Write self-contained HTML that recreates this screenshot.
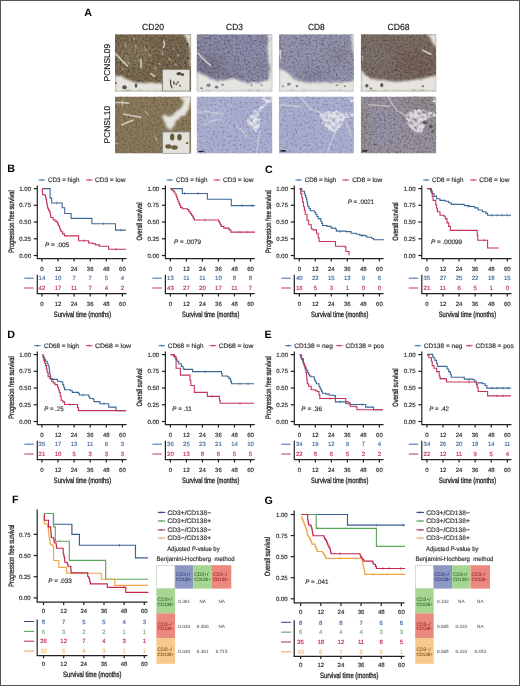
<!DOCTYPE html><html><head><meta charset="utf-8"><style>html,body{margin:0;padding:0;background:#fff;}svg{display:block;will-change:transform;filter:blur(0.3px);}text{font-family:"Liberation Sans", sans-serif;text-rendering:geometricPrecision;}</style></head><body>
<svg width="520" height="686" viewBox="0 0 520 686">
<rect x="0" y="0" width="520" height="686" fill="#fff"/>
<defs>
<filter id="nz" x="0" y="0" width="100%" height="100%"><feTurbulence type="fractalNoise" baseFrequency="0.5" numOctaves="2" seed="7" result="t"/><feColorMatrix in="t" type="matrix" values="0 0 0 0 0  0 0 0 0 0  0 0 0 0 0  0 0 0 -3.0 1.55"/><feGaussianBlur stdDeviation="0.45"/></filter>
<filter id="nzl" x="0" y="0" width="100%" height="100%"><feTurbulence type="fractalNoise" baseFrequency="0.45" numOctaves="2" seed="13" result="t"/><feColorMatrix in="t" type="matrix" values="0 0 0 0 0  0 0 0 0 0  0 0 0 0 0  0 0 0 -3.0 1.5"/><feGaussianBlur stdDeviation="0.45"/></filter>
<filter id="rough" x="-10%" y="-10%" width="120%" height="120%"><feTurbulence type="fractalNoise" baseFrequency="0.25" numOctaves="2" seed="3" result="t"/><feDisplacementMap in="SourceGraphic" in2="t" scale="3" xChannelSelector="R" yChannelSelector="G" result="d"/><feGaussianBlur in="d" stdDeviation="0.9"/></filter>
<filter id="lacy" x="-10%" y="-10%" width="120%" height="120%"><feTurbulence type="fractalNoise" baseFrequency="0.35" numOctaves="2" seed="21" result="t"/><feDisplacementMap in="SourceGraphic" in2="t" scale="4" xChannelSelector="R" yChannelSelector="G" result="d"/><feTurbulence type="fractalNoise" baseFrequency="0.28" numOctaves="1" seed="5" result="t2"/><feColorMatrix in="t2" type="matrix" values="0 0 0 0 0  0 0 0 0 0  0 0 0 0 0  0 0 0 3.0 -0.75" result="m"/><feComposite in="d" in2="m" operator="in" result="c"/><feGaussianBlur in="c" stdDeviation="0.7"/></filter>
<filter id="pblur" x="-50%" y="-50%" width="200%" height="200%"><feGaussianBlur stdDeviation="4"/></filter>
<filter id="stb" x="-20%" y="-20%" width="140%" height="140%"><feGaussianBlur stdDeviation="0.7"/></filter>
<filter id="sblur" x="-50%" y="-50%" width="200%" height="200%"><feGaussianBlur stdDeviation="0.7"/></filter>
<clipPath id="clip00"><rect x="115.0" y="34.2" width="76.20" height="57.40"/></clipPath>
<clipPath id="clip01"><rect x="196.6" y="34.2" width="75.80" height="57.40"/></clipPath>
<clipPath id="clip02"><rect x="278.9" y="34.2" width="75.00" height="57.40"/></clipPath>
<clipPath id="clip03"><rect x="360.8" y="34.2" width="75.50" height="57.40"/></clipPath>
<clipPath id="clip10"><rect x="115.0" y="96.5" width="76.20" height="57.00"/></clipPath>
<clipPath id="clip11"><rect x="196.6" y="96.5" width="75.80" height="57.00"/></clipPath>
<clipPath id="clip12"><rect x="278.9" y="96.5" width="75.00" height="57.00"/></clipPath>
<clipPath id="clip13"><rect x="360.8" y="96.5" width="75.50" height="57.00"/></clipPath>
</defs>
<g clip-path="url(#clip00)">
<rect x="115.0" y="34.2" width="76.20" height="57.40" fill="#7c6c52"/>
<g transform="translate(115.0 34.2)" filter="url(#pblur)">
<ellipse cx="20" cy="20" rx="18" ry="14" fill="#948468" opacity="0.45"/>
<ellipse cx="55" cy="25" rx="12" ry="12" fill="#75644a" opacity="0.4"/>
</g>
<rect x="115.0" y="34.2" width="76.20" height="57.40" fill="#46361e" filter="url(#nz)" opacity="0.3"/>
<rect x="115.0" y="34.2" width="76.20" height="57.40" fill="#cfc4ac" filter="url(#nzl)" opacity="0.3"/>
<g transform="translate(115.0 34.2)" filter="url(#rough)">
<polygon points="68,0 76,0 76,34 74.5,30 75,22 74.6,14 73,8 71,3.5" fill="#e6e4df" opacity="1.0"/>
<polygon points="0,40.9 1.1,40.9 5.7,42.4 10.3,44 14.9,46.3 21,48.6 28.8,48.6 36.5,48.6 44.2,49.3 48,49.5 48,57.4 0,57.4" fill="#e6e4df" opacity="1.0"/>
</g>
<g transform="translate(115.0 34.2)" filter="url(#stb)">
<polyline points="0.3,19.3 4,23 8,27.5 12.6,31.6" fill="none" stroke="#e8e6e0" stroke-width="1.7" stroke-linecap="round" opacity="0.75"/>
<polyline points="25.7,25.5 26.2,29 25.9,33.2" fill="none" stroke="#e8e6e0" stroke-width="1.7" stroke-linecap="round" opacity="0.75"/>
<polyline points="48.8,7 49.5,10 48.6,13" fill="none" stroke="#e8e6e0" stroke-width="1.7" stroke-linecap="round" opacity="0.75"/>
<polyline points="47.2,16.3 47.8,20.9" fill="none" stroke="#e8e6e0" stroke-width="1.3" stroke-linecap="round" opacity="0.45"/>
<polyline points="54,24 56,26.3" fill="none" stroke="#e8e6e0" stroke-width="1.3" stroke-linecap="round" opacity="0.45"/>
<polyline points="36,39.5 38,41 39.5,42" fill="none" stroke="#e8e6e0" stroke-width="1.7" stroke-linecap="round" opacity="0.75"/>
<polyline points="18.8,3.5 19.5,5" fill="none" stroke="#e8e6e0" stroke-width="1.3" stroke-linecap="round" opacity="0.45"/>
<polyline points="20.3,11 21,12.5" fill="none" stroke="#e8e6e0" stroke-width="1.3" stroke-linecap="round" opacity="0.45"/>
<polyline points="34.2,20.5 35,21.5" fill="none" stroke="#e8e6e0" stroke-width="1.3" stroke-linecap="round" opacity="0.45"/>
<polyline points="58,14.2 59,15.2" fill="none" stroke="#e8e6e0" stroke-width="1.3" stroke-linecap="round" opacity="0.45"/>
<polyline points="62.6,20.5 63.3,21.6" fill="none" stroke="#e8e6e0" stroke-width="1.3" stroke-linecap="round" opacity="0.45"/>
<polyline points="44,29 45,30" fill="none" stroke="#e8e6e0" stroke-width="1.3" stroke-linecap="round" opacity="0.45"/>
<polyline points="7,34.5 8.2,35.5" fill="none" stroke="#e8e6e0" stroke-width="1.3" stroke-linecap="round" opacity="0.45"/>
<polyline points="13.2,28.3 14,29" fill="none" stroke="#e8e6e0" stroke-width="1.3" stroke-linecap="round" opacity="0.45"/>
<polyline points="30,14 31,16" fill="none" stroke="#e8e6e0" stroke-width="1.3" stroke-linecap="round" opacity="0.45"/>
<polyline points="40,33 41,35" fill="none" stroke="#e8e6e0" stroke-width="1.3" stroke-linecap="round" opacity="0.45"/>
<polyline points="60,30 61.5,31" fill="none" stroke="#e8e6e0" stroke-width="1.3" stroke-linecap="round" opacity="0.45"/>
<polyline points="10,10 11,12" fill="none" stroke="#e8e6e0" stroke-width="1.3" stroke-linecap="round" opacity="0.45"/>
</g>
<g transform="translate(115.0 34.2)" filter="url(#sblur)">
<ellipse cx="9.5" cy="53" rx="2.24" ry="1.96" fill="#2e2010" opacity="0.75"/>
<ellipse cx="21" cy="51.5" rx="1.26" ry="2.10" fill="#2e2010" opacity="0.75"/>
<ellipse cx="1.2" cy="49" rx="0.84" ry="0.84" fill="#3a2a14" opacity="0.75"/>
<ellipse cx="72.5" cy="10" rx="1.05" ry="1.40" fill="#3a2a14" opacity="0.75"/>
<ellipse cx="73" cy="24" rx="0.84" ry="1.40" fill="#3a2a14" opacity="0.75"/>
</g>
<g transform="translate(115.0 34.2)">
<rect x="47.6" y="35.4" width="27.3" height="21.5" fill="#e2e1dc" stroke="#85837d" stroke-width="0.9"/>
<g filter="url(#sblur)">
<path d="M55.5 45.5 q-0.5 4 1.5 8.5 M58.5 47 l0.8 3.5 M61 49 l0.5 2" stroke="#5a4a35" stroke-width="1.3" fill="none"/>
<ellipse cx="64" cy="39.5" rx="2.6" ry="1.6" fill="#5a4a35"/><ellipse cx="67.5" cy="40.5" rx="1.6" ry="1.4" fill="#5a4a35"/><ellipse cx="63" cy="48" rx="1" ry="1" fill="#6a5a45"/><ellipse cx="65" cy="51.5" rx="0.9" ry="0.9" fill="#6a5a45"/>
</g></g>
</g>
<g clip-path="url(#clip01)">
<rect x="196.6" y="34.2" width="75.80" height="57.40" fill="#8b8ba7"/>
<g transform="translate(196.6 34.2)" filter="url(#pblur)">
<ellipse cx="12" cy="32" rx="14" ry="12" fill="#6a6678" opacity="0.45"/>
<ellipse cx="30" cy="40" rx="12" ry="6" fill="#76707e" opacity="0.4"/>
<ellipse cx="50" cy="15" rx="16" ry="12" fill="#9496b8" opacity="0.3"/>
</g>
<rect x="196.6" y="34.2" width="75.80" height="57.40" fill="#40343e" filter="url(#nz)" opacity="0.27"/>
<rect x="196.6" y="34.2" width="75.80" height="57.40" fill="#c2c4da" filter="url(#nzl)" opacity="0.22"/>
<g transform="translate(196.6 34.2)" filter="url(#rough)">
<polygon points="70.7,0 76,0 76,57.4 72.2,44 72.2,42.4 73.8,36.3 72.2,28.6 71.5,20.9 70.7,13.2 72.2,7" fill="#e6e4df" opacity="1.0"/>
<polygon points="0,37.8 1.5,37.8 7.6,40.9 13.8,44 21.5,47 29.2,45.5 36.9,44 44.6,47 52.2,48.6 63,48.6 72.2,44 76,44 76,57.4 0,57.4" fill="#e6e4df" opacity="1.0"/>
</g>
<g transform="translate(196.6 34.2)" filter="url(#stb)">
<polyline points="1.5,19.3 6,24 10,28 13.8,30.9" fill="none" stroke="#e8e6e0" stroke-width="1.7" stroke-linecap="round" opacity="0.75"/>
</g>
<g transform="translate(196.6 34.2)" filter="url(#sblur)">
<ellipse cx="12" cy="51" rx="2.10" ry="1.75" fill="#6a6078" opacity="0.75"/>
<ellipse cx="20" cy="53" rx="1.75" ry="1.40" fill="#5a5068" opacity="0.75"/>
<ellipse cx="26" cy="50.5" rx="1.40" ry="1.05" fill="#6a6078" opacity="0.75"/>
<ellipse cx="5" cy="54" rx="1.40" ry="1.05" fill="#6a6078" opacity="0.75"/>
<ellipse cx="55" cy="51" rx="1.05" ry="0.84" fill="#7a7088" opacity="0.75"/>
<ellipse cx="65" cy="51" rx="1.05" ry="0.84" fill="#7a7088" opacity="0.75"/>
</g>
</g>
<g clip-path="url(#clip02)">
<rect x="278.9" y="34.2" width="75.00" height="57.40" fill="#9495ae"/>
<g transform="translate(278.9 34.2)" filter="url(#pblur)">
<ellipse cx="60" cy="22" rx="10" ry="10" fill="#7a6e80" opacity="0.35"/>
<ellipse cx="35" cy="40" rx="14" ry="6" fill="#706a80" opacity="0.35"/>
</g>
<rect x="278.9" y="34.2" width="75.00" height="57.40" fill="#4a4050" filter="url(#nz)" opacity="0.25"/>
<rect x="278.9" y="34.2" width="75.00" height="57.40" fill="#c6c7db" filter="url(#nzl)" opacity="0.22"/>
<g transform="translate(278.9 34.2)" filter="url(#rough)">
<polygon points="72,0 76,0 76,20 73.5,16.3 73,8" fill="#e6e4df" opacity="1.0"/>
<polygon points="0,34.7 0.4,34.7 5.8,36.3 13.5,44 21.2,47 28.9,48.6 44.3,47.8 59.6,48.6 72,47 76,46 76,57.4 0,57.4" fill="#e6e4df" opacity="1.0"/>
</g>
<g transform="translate(278.9 34.2)" filter="url(#stb)">
<polyline points="1.2,16.3 1.5,20 1.8,24" fill="none" stroke="#e8e6e0" stroke-width="1.7" stroke-linecap="round" opacity="0.75"/>
</g>
<g transform="translate(278.9 34.2)" filter="url(#sblur)">
<ellipse cx="10" cy="50" rx="1.75" ry="1.40" fill="#6a6078" opacity="0.75"/>
<ellipse cx="18" cy="52" rx="1.40" ry="1.12" fill="#6a6078" opacity="0.75"/>
<ellipse cx="4" cy="52" rx="1.05" ry="1.05" fill="#7a7088" opacity="0.75"/>
<ellipse cx="58" cy="51" rx="1.40" ry="0.91" fill="#7a7088" opacity="0.75"/>
<ellipse cx="66" cy="52" rx="1.05" ry="0.84" fill="#7a6a70" opacity="0.75"/>
</g>
</g>
<g clip-path="url(#clip03)">
<rect x="360.8" y="34.2" width="75.50" height="57.40" fill="#7d6e66"/>
<g transform="translate(360.8 34.2)" filter="url(#pblur)">
<ellipse cx="55" cy="30" rx="18" ry="16" fill="#745a4a" opacity="0.45"/>
<ellipse cx="15" cy="20" rx="14" ry="14" fill="#868080" opacity="0.3"/>
</g>
<rect x="360.8" y="34.2" width="75.50" height="57.40" fill="#3a261a" filter="url(#nz)" opacity="0.28"/>
<rect x="360.8" y="34.2" width="75.50" height="57.40" fill="#c4b6aa" filter="url(#nzl)" opacity="0.24"/>
<g transform="translate(360.8 34.2)" filter="url(#rough)">
<polygon points="66,0 76,0 76,14 73,10 70,5" fill="#e6e4df" opacity="1.0"/>
<polygon points="0,35.5 1.2,36.4 5.4,42 12.2,44.8 22,46.1 35.8,47.5 49.7,46.1 63.5,44 71.8,42 76,41 76,57.4 0,57.4" fill="#e6e4df" opacity="1.0"/>
</g>
<g transform="translate(360.8 34.2)" filter="url(#stb)">
<polyline points="62,16 66,18 70,20" fill="none" stroke="#e8e6e0" stroke-width="1.7" stroke-linecap="round" opacity="0.75"/>
<polyline points="1.3,22.4 2.5,25.5" fill="none" stroke="#e8e6e0" stroke-width="1.3" stroke-linecap="round" opacity="0.45"/>
</g>
<g transform="translate(360.8 34.2)" filter="url(#sblur)">
<ellipse cx="6" cy="51.5" rx="1.75" ry="1.75" fill="#3a2a22" opacity="0.75"/>
<ellipse cx="21" cy="51" rx="1.54" ry="2.10" fill="#3a2a22" opacity="0.75"/>
<ellipse cx="10" cy="54" rx="1.05" ry="1.05" fill="#4a3a30" opacity="0.75"/>
<ellipse cx="62" cy="52" rx="1.40" ry="1.05" fill="#6a5a50" opacity="0.75"/>
</g>
</g>
<g clip-path="url(#clip10)">
<rect x="115.0" y="96.5" width="76.20" height="57.00" fill="#8b7a5b"/>
<g transform="translate(115.0 96.5)" filter="url(#pblur)">
<ellipse cx="20" cy="35" rx="18" ry="14" fill="#8a7656" opacity="0.3"/>
</g>
<rect x="115.0" y="96.5" width="76.20" height="57.00" fill="#46341c" filter="url(#nz)" opacity="0.16"/>
<rect x="115.0" y="96.5" width="76.20" height="57.00" fill="#c8baa0" filter="url(#nzl)" opacity="0.22"/>
<g transform="translate(115.0 96.5)" filter="url(#rough)">
<polygon points="64,0 76,0 76,6 74.9,6.7 73.4,12.9 70.3,17.5 65.7,20.6 62.6,23.7 59.5,28.3 56.5,32.9 51.8,31.3 50.3,26.7 47.2,20.6 48.8,17.5 53.4,20.6 56.5,19 62.6,14.4 67.2,9.8 68.8,5.2 66,2" fill="#e6e4df" opacity="1.0"/>
</g>
<g transform="translate(115.0 96.5)" filter="url(#stb)">
<polyline points="1.1,6 6,6 13.4,6.7" fill="none" stroke="#e8e6e0" stroke-width="1.7" stroke-linecap="round" opacity="0.75"/>
<polyline points="7.2,3.7 7.4,9.8" fill="none" stroke="#e8e6e0" stroke-width="1.3" stroke-linecap="round" opacity="0.45"/>
<polyline points="8.8,17.5 16,19 25.7,20.6" fill="none" stroke="#e8e6e0" stroke-width="1.7" stroke-linecap="round" opacity="0.75"/>
<polyline points="7.2,28.3 12,26 18,23.7" fill="none" stroke="#e8e6e0" stroke-width="1.7" stroke-linecap="round" opacity="0.75"/>
<polyline points="1.1,46.7 3,47.5" fill="none" stroke="#e8e6e0" stroke-width="1.3" stroke-linecap="round" opacity="0.45"/>
<polyline points="30,15 33,18" fill="none" stroke="#e8e6e0" stroke-width="1.3" stroke-linecap="round" opacity="0.45"/>
<polyline points="40,40 42,44" fill="none" stroke="#e8e6e0" stroke-width="1.3" stroke-linecap="round" opacity="0.45"/>
</g>
<g transform="translate(115.0 96.5)" filter="url(#sblur)">
</g>
<g transform="translate(115.0 96.5)">
<rect x="47.6" y="35.4" width="27.3" height="21.5" fill="#e2e1dc" stroke="#85837d" stroke-width="0.9"/>
<g filter="url(#sblur)">
<ellipse cx="57.2" cy="40.5" rx="2.2" ry="3.6" fill="#6b5a40"/><ellipse cx="64.5" cy="40.8" rx="2.3" ry="3.2" fill="#6b5a40"/><ellipse cx="53.5" cy="50" rx="3.2" ry="2.2" fill="#6b5a40"/><ellipse cx="59.5" cy="51" rx="3.2" ry="2.2" fill="#6b5a40"/><path d="M70.5 47.5 l1.6 -3 l1.6 3z" fill="#7b6a50"/>
</g></g>
</g>
<g clip-path="url(#clip11)">
<rect x="196.6" y="96.5" width="75.80" height="57.00" fill="#abafd2"/>
<g transform="translate(196.6 96.5)" filter="url(#pblur)">
<ellipse cx="20" cy="20" rx="14" ry="10" fill="#b8bbd8" opacity="0.4"/>
</g>
<rect x="196.6" y="96.5" width="75.80" height="57.00" fill="#6a6e98" filter="url(#nz)" opacity="0.06"/>
<rect x="196.6" y="96.5" width="75.80" height="57.00" fill="#d6d9ea" filter="url(#nzl)" opacity="0.2"/>
<g transform="translate(196.6 96.5)" filter="url(#lacy)">
<polygon points="64.6,0 76,0 76,5.2 70.7,6.7 66,5" fill="#efeef0" opacity="0.78"/>
<polygon points="70.7,6.7 66,12 63,17.5 60,22 55,27 49.2,28.3 50.7,22 56,17.5 62,12 66,8" fill="#efeef0" opacity="0.78"/>
<polygon points="52,26 58,22 63,22 63,30 60,34.4 55,33" fill="#efeef0" opacity="0.78"/>
</g>
<g transform="translate(196.6 96.5)" filter="url(#stb)">
<polyline points="1.5,16 10,15 18,16.5 26,17.5" fill="none" stroke="#e8e6e0" stroke-width="1.36" stroke-linecap="round" opacity="0.5249999999999999"/>
<polyline points="7.6,28.3 15,25 23,22.1" fill="none" stroke="#e8e6e0" stroke-width="1.36" stroke-linecap="round" opacity="0.5249999999999999"/>
<polyline points="63,34.4 62,42 61,50 60,56" fill="none" stroke="#e8e6e0" stroke-width="1.36" stroke-linecap="round" opacity="0.5249999999999999"/>
<polyline points="40,30 46,34 50,40" fill="none" stroke="#e8e6e0" stroke-width="1.36" stroke-linecap="round" opacity="0.5249999999999999"/>
<polyline points="30,8 36,10" fill="none" stroke="#e8e6e0" stroke-width="1.04" stroke-linecap="round" opacity="0.315"/>
</g>
<g transform="translate(196.6 96.5)" filter="url(#sblur)">
<ellipse cx="4.5" cy="55" rx="3.00" ry="0.80" fill="#222" opacity="1.0"/>
</g>
</g>
<g clip-path="url(#clip12)">
<rect x="278.9" y="96.5" width="75.00" height="57.00" fill="#abafd2"/>
<g transform="translate(278.9 96.5)" filter="url(#pblur)">
<ellipse cx="20" cy="35" rx="16" ry="14" fill="#a0a4cb" opacity="0.3"/>
</g>
<rect x="278.9" y="96.5" width="75.00" height="57.00" fill="#6c709a" filter="url(#nz)" opacity="0.06"/>
<rect x="278.9" y="96.5" width="75.00" height="57.00" fill="#d6d9ea" filter="url(#nzl)" opacity="0.2"/>
<g transform="translate(278.9 96.5)" filter="url(#lacy)">
<polygon points="68.9,0 76,0 76,6.7 71,4" fill="#efeef0" opacity="0.78"/>
<polygon points="41.2,16 50,14.4 60,15 75,17.5 75,19.5 65.8,22 62,30 56.6,36 48,33 44,26 41.2,19" fill="#efeef0" opacity="0.78"/>
</g>
<g transform="translate(278.9 96.5)" filter="url(#stb)">
<polyline points="21.2,0.6 26,6 31.9,12.9 38,15 41.2,16" fill="none" stroke="#e8e6e0" stroke-width="1.36" stroke-linecap="round" opacity="0.5249999999999999"/>
<polyline points="1.2,8.3 10,9 21.2,9.8" fill="none" stroke="#e8e6e0" stroke-width="1.36" stroke-linecap="round" opacity="0.5249999999999999"/>
<polyline points="56.6,36 53,44 50,50 48.9,56" fill="none" stroke="#e8e6e0" stroke-width="1.36" stroke-linecap="round" opacity="0.5249999999999999"/>
<polyline points="66,25 70,32 72,40" fill="none" stroke="#e8e6e0" stroke-width="1.36" stroke-linecap="round" opacity="0.5249999999999999"/>
</g>
<g transform="translate(278.9 96.5)" filter="url(#sblur)">
<ellipse cx="4.2" cy="54.4" rx="3.00" ry="0.80" fill="#222" opacity="1.0"/>
</g>
</g>
<g clip-path="url(#clip13)">
<rect x="360.8" y="96.5" width="75.50" height="57.00" fill="#99939f"/>
<g transform="translate(360.8 96.5)" filter="url(#pblur)">
<ellipse cx="24" cy="32" rx="14" ry="18" fill="#9696b6" opacity="0.5"/>
<ellipse cx="60" cy="6" rx="16" ry="8" fill="#8a7a72" opacity="0.4"/>
<ellipse cx="5" cy="30" rx="5" ry="20" fill="#8a7a72" opacity="0.35"/>
</g>
<rect x="360.8" y="96.5" width="75.50" height="57.00" fill="#3e2e26" filter="url(#nz)" opacity="0.25"/>
<rect x="360.8" y="96.5" width="75.50" height="57.00" fill="#c8c2cc" filter="url(#nzl)" opacity="0.2"/>
<g transform="translate(360.8 96.5)" filter="url(#lacy)">
<polygon points="70.5,0 76,0 76,8.3 72,5" fill="#efeef0" opacity="0.78"/>
<polygon points="44.4,19 52,13 60,12.9 68,15 75,17.5 75,20 65.9,22 64,30 60,37.5 52,34 47,28" fill="#efeef0" opacity="0.78"/>
</g>
<g transform="translate(360.8 96.5)" filter="url(#stb)">
<polyline points="27.4,0.6 31,7 36.7,14.4 44.4,19" fill="none" stroke="#e8e6e0" stroke-width="1.36" stroke-linecap="round" opacity="0.5249999999999999"/>
<polyline points="7.4,8.3 18,9 29,9.8" fill="none" stroke="#e8e6e0" stroke-width="1.36" stroke-linecap="round" opacity="0.5249999999999999"/>
</g>
<g transform="translate(360.8 96.5)" filter="url(#sblur)">
<ellipse cx="64" cy="26" rx="2.10" ry="2.10" fill="#4a3a30" opacity="0.75"/>
<ellipse cx="70" cy="30" rx="1.75" ry="2.10" fill="#4a3a30" opacity="0.75"/>
<ellipse cx="72" cy="35" rx="1.40" ry="1.40" fill="#5a4a40" opacity="0.75"/>
<ellipse cx="4" cy="54.4" rx="3.00" ry="0.80" fill="#222" opacity="1.0"/>
<ellipse cx="14" cy="48" rx="1.05" ry="1.05" fill="#4a3a30" opacity="0.75"/>
<ellipse cx="30" cy="46" rx="0.84" ry="0.84" fill="#4a3a30" opacity="0.75"/>
</g>
</g>
<text x="153.10" y="29.80" font-size="8.8" text-anchor="middle" fill="#222" stroke="#222" stroke-width="0.18" textLength="22.1" lengthAdjust="spacingAndGlyphs">CD20</text>
<text x="234.50" y="29.80" font-size="8.8" text-anchor="middle" fill="#222" stroke="#222" stroke-width="0.18" textLength="16.8" lengthAdjust="spacingAndGlyphs">CD3</text>
<text x="316.40" y="29.80" font-size="8.8" text-anchor="middle" fill="#222" stroke="#222" stroke-width="0.18" textLength="16.8" lengthAdjust="spacingAndGlyphs">CD8</text>
<text x="398.55" y="29.80" font-size="8.8" text-anchor="middle" fill="#222" stroke="#222" stroke-width="0.18" textLength="22.1" lengthAdjust="spacingAndGlyphs">CD68</text>
<text x="110.30" y="62.60" font-size="8.5" text-anchor="middle" fill="#222" stroke="#222" stroke-width="0.18" textLength="37.6" lengthAdjust="spacingAndGlyphs" transform="rotate(-90 110.3 62.60)">PCNSL09</text>
<text x="110.30" y="124.70" font-size="8.5" text-anchor="middle" fill="#222" stroke="#222" stroke-width="0.18" textLength="37.6" lengthAdjust="spacingAndGlyphs" transform="rotate(-90 110.3 124.70)">PCNSL10</text>
<line x1="37.30" y1="185.40" x2="37.30" y2="258.60" stroke="#222" stroke-width="1.2"/>
<line x1="36.80" y1="258.60" x2="126.60" y2="258.60" stroke="#222" stroke-width="1.2"/>
<line x1="33.80" y1="255.50" x2="37.30" y2="255.50" stroke="#222" stroke-width="1.2"/>
<text x="31.00" y="257.65" font-size="6" text-anchor="end" fill="#333" stroke="#333" stroke-width="0.18">0.00</text>
<line x1="33.80" y1="238.78" x2="37.30" y2="238.78" stroke="#222" stroke-width="1.2"/>
<text x="31.00" y="240.93" font-size="6" text-anchor="end" fill="#333" stroke="#333" stroke-width="0.18">0.25</text>
<line x1="33.80" y1="222.05" x2="37.30" y2="222.05" stroke="#222" stroke-width="1.2"/>
<text x="31.00" y="224.20" font-size="6" text-anchor="end" fill="#333" stroke="#333" stroke-width="0.18">0.50</text>
<line x1="33.80" y1="205.32" x2="37.30" y2="205.32" stroke="#222" stroke-width="1.2"/>
<text x="31.00" y="207.47" font-size="6" text-anchor="end" fill="#333" stroke="#333" stroke-width="0.18">0.75</text>
<line x1="33.80" y1="188.60" x2="37.30" y2="188.60" stroke="#222" stroke-width="1.2"/>
<text x="31.00" y="190.75" font-size="6" text-anchor="end" fill="#333" stroke="#333" stroke-width="0.18">1.00</text>
<line x1="41.90" y1="258.60" x2="41.90" y2="261.60" stroke="#222" stroke-width="1.2"/>
<text x="41.90" y="270.50" font-size="6" text-anchor="middle" fill="#333" stroke="#333" stroke-width="0.18">0</text>
<line x1="58.00" y1="258.60" x2="58.00" y2="261.60" stroke="#222" stroke-width="1.2"/>
<text x="58.00" y="270.50" font-size="6" text-anchor="middle" fill="#333" stroke="#333" stroke-width="0.18">12</text>
<line x1="74.10" y1="258.60" x2="74.10" y2="261.60" stroke="#222" stroke-width="1.2"/>
<text x="74.10" y="270.50" font-size="6" text-anchor="middle" fill="#333" stroke="#333" stroke-width="0.18">24</text>
<line x1="90.20" y1="258.60" x2="90.20" y2="261.60" stroke="#222" stroke-width="1.2"/>
<text x="90.20" y="270.50" font-size="6" text-anchor="middle" fill="#333" stroke="#333" stroke-width="0.18">36</text>
<line x1="106.30" y1="258.60" x2="106.30" y2="261.60" stroke="#222" stroke-width="1.2"/>
<text x="106.30" y="270.50" font-size="6" text-anchor="middle" fill="#333" stroke="#333" stroke-width="0.18">48</text>
<line x1="122.40" y1="258.60" x2="122.40" y2="261.60" stroke="#222" stroke-width="1.2"/>
<text x="122.40" y="270.50" font-size="6" text-anchor="middle" fill="#333" stroke="#333" stroke-width="0.18">60</text>
<text x="14.00" y="221.55" font-size="7.8" text-anchor="middle" fill="#222" stroke="#222" stroke-width="0.28" textLength="62.5" lengthAdjust="spacingAndGlyphs" transform="rotate(-90 14.00 221.55)">Progression free survival</text>
<line x1="38.70" y1="180.00" x2="44.90" y2="180.00" stroke="#3d6895" stroke-width="1"/>
<line x1="41.80" y1="178.80" x2="41.80" y2="181.20" stroke="#3d6895" stroke-width="0.6"/>
<text x="48.00" y="182.20" font-size="6.4" text-anchor="start" fill="#333" stroke="#333" stroke-width="0.18" textLength="31.4" lengthAdjust="spacingAndGlyphs">CD3 = high</text>
<line x1="85.90" y1="180.00" x2="92.50" y2="180.00" stroke="#c3345a" stroke-width="1"/>
<line x1="89.20" y1="178.80" x2="89.20" y2="181.20" stroke="#c3345a" stroke-width="0.6"/>
<text x="94.90" y="182.20" font-size="6.4" text-anchor="start" fill="#333" stroke="#333" stroke-width="0.18" textLength="30.5" lengthAdjust="spacingAndGlyphs">CD3 = low</text>
<polyline points="42.20,188.60 50.10,188.60 50.10,198.10 51.70,198.10 51.70,203.00 62.20,203.00 62.20,207.80 64.70,207.80 64.70,213.50 71.10,213.50 71.10,218.40 91.90,218.40 91.90,223.70 115.50,223.70 115.50,230.10 126.00,230.10" fill="none" stroke="#3d6895" stroke-width="1.1" stroke-linejoin="miter"/>
<path d="M56.60 201.70V204.30" stroke="#3d6895" stroke-width="0.7"/>
<path d="M103.40 222.40V225.00" stroke="#3d6895" stroke-width="0.7"/>
<path d="M121.00 228.80V231.40" stroke="#3d6895" stroke-width="0.7"/>
<polyline points="42.20,188.60 42.33,188.60 42.33,190.67 42.47,190.67 42.47,192.73 42.60,192.73 42.60,194.80 45.00,194.80 45.00,195.20 45.40,195.20 45.40,196.73 45.80,196.73 45.80,198.27 46.20,198.27 46.20,199.80 46.50,199.80 46.50,201.50 46.80,201.50 46.80,203.20 47.10,203.20 47.10,204.90 47.40,204.90 47.40,206.60 47.70,206.60 47.70,208.30 48.47,208.30 48.47,209.83 49.23,209.83 49.23,211.37 50.00,211.37 50.00,212.90 50.27,212.90 50.27,214.43 50.53,214.43 50.53,215.97 50.80,215.97 50.80,217.50 53.10,217.50 53.10,219.80 55.00,219.80 55.00,221.10 57.00,221.10 57.00,222.40 57.70,222.40 57.70,224.10 58.40,224.10 58.40,225.80 59.70,225.80 59.70,228.50 60.35,228.50 60.35,230.15 61.00,230.15 61.00,231.80 62.70,231.80 62.70,233.85 64.40,233.85 64.40,235.90 78.60,235.90 78.60,240.80 88.60,240.80 88.60,243.00 92.70,243.00 92.70,243.70 95.40,243.70 95.40,244.90 99.40,244.90 99.40,246.20 108.60,246.20 108.60,249.30 126.00,249.30" fill="none" stroke="#c3345a" stroke-width="1.1" stroke-linejoin="miter"/>
<path d="M84.00 239.50V242.10" stroke="#c3345a" stroke-width="0.7"/>
<path d="M116.00 248.00V250.60" stroke="#c3345a" stroke-width="0.7"/>
<text x="45.00" y="246.80" font-size="6.4" fill="#333" stroke="#333" stroke-width="0.18" textLength="24.1" lengthAdjust="spacingAndGlyphs"><tspan font-style="italic">P</tspan> = .005</text>
<line x1="37.30" y1="274.80" x2="37.30" y2="293.70" stroke="#222" stroke-width="1.2"/>
<line x1="36.80" y1="293.70" x2="126.60" y2="293.70" stroke="#222" stroke-width="1.2"/>
<line x1="41.90" y1="293.70" x2="41.90" y2="296.50" stroke="#222" stroke-width="1.2"/>
<text x="41.90" y="305.75" font-size="6" text-anchor="middle" fill="#333" stroke="#333" stroke-width="0.18">0</text>
<line x1="58.00" y1="293.70" x2="58.00" y2="296.50" stroke="#222" stroke-width="1.2"/>
<text x="58.00" y="305.75" font-size="6" text-anchor="middle" fill="#333" stroke="#333" stroke-width="0.18">12</text>
<line x1="74.10" y1="293.70" x2="74.10" y2="296.50" stroke="#222" stroke-width="1.2"/>
<text x="74.10" y="305.75" font-size="6" text-anchor="middle" fill="#333" stroke="#333" stroke-width="0.18">24</text>
<line x1="90.20" y1="293.70" x2="90.20" y2="296.50" stroke="#222" stroke-width="1.2"/>
<text x="90.20" y="305.75" font-size="6" text-anchor="middle" fill="#333" stroke="#333" stroke-width="0.18">36</text>
<line x1="106.30" y1="293.70" x2="106.30" y2="296.50" stroke="#222" stroke-width="1.2"/>
<text x="106.30" y="305.75" font-size="6" text-anchor="middle" fill="#333" stroke="#333" stroke-width="0.18">48</text>
<line x1="122.40" y1="293.70" x2="122.40" y2="296.50" stroke="#222" stroke-width="1.2"/>
<text x="122.40" y="305.75" font-size="6" text-anchor="middle" fill="#333" stroke="#333" stroke-width="0.18">60</text>
<line x1="24.30" y1="278.20" x2="33.70" y2="278.20" stroke="#3d6895" stroke-width="1"/>
<text x="41.90" y="280.40" font-size="6" text-anchor="middle" fill="#4a74a3" stroke="#4a74a3" stroke-width="0.18">14</text>
<text x="58.00" y="280.40" font-size="6" text-anchor="middle" fill="#4a74a3" stroke="#4a74a3" stroke-width="0.18">10</text>
<text x="74.10" y="280.40" font-size="6" text-anchor="middle" fill="#4a74a3" stroke="#4a74a3" stroke-width="0.18">7</text>
<text x="90.20" y="280.40" font-size="6" text-anchor="middle" fill="#4a74a3" stroke="#4a74a3" stroke-width="0.18">7</text>
<text x="106.30" y="280.40" font-size="6" text-anchor="middle" fill="#4a74a3" stroke="#4a74a3" stroke-width="0.18">5</text>
<text x="122.40" y="280.40" font-size="6" text-anchor="middle" fill="#4a74a3" stroke="#4a74a3" stroke-width="0.18">4</text>
<line x1="24.30" y1="288.00" x2="33.70" y2="288.00" stroke="#c3345a" stroke-width="1"/>
<text x="41.90" y="290.20" font-size="6" text-anchor="middle" fill="#c43a5f" stroke="#c43a5f" stroke-width="0.18">42</text>
<text x="58.00" y="290.20" font-size="6" text-anchor="middle" fill="#c43a5f" stroke="#c43a5f" stroke-width="0.18">17</text>
<text x="74.10" y="290.20" font-size="6" text-anchor="middle" fill="#c43a5f" stroke="#c43a5f" stroke-width="0.18">11</text>
<text x="90.20" y="290.20" font-size="6" text-anchor="middle" fill="#c43a5f" stroke="#c43a5f" stroke-width="0.18">7</text>
<text x="106.30" y="290.20" font-size="6" text-anchor="middle" fill="#c43a5f" stroke="#c43a5f" stroke-width="0.18">4</text>
<text x="122.40" y="290.20" font-size="6" text-anchor="middle" fill="#c43a5f" stroke="#c43a5f" stroke-width="0.18">2</text>
<text x="82.45" y="316.70" font-size="7.8" text-anchor="middle" fill="#222" stroke="#222" stroke-width="0.3" textLength="57.3" lengthAdjust="spacingAndGlyphs">Survival time (months)</text>
<line x1="165.40" y1="185.40" x2="165.40" y2="258.60" stroke="#222" stroke-width="1.2"/>
<line x1="164.90" y1="258.60" x2="254.70" y2="258.60" stroke="#222" stroke-width="1.2"/>
<line x1="161.90" y1="255.50" x2="165.40" y2="255.50" stroke="#222" stroke-width="1.2"/>
<text x="159.10" y="257.65" font-size="6" text-anchor="end" fill="#333" stroke="#333" stroke-width="0.18">0.00</text>
<line x1="161.90" y1="238.78" x2="165.40" y2="238.78" stroke="#222" stroke-width="1.2"/>
<text x="159.10" y="240.93" font-size="6" text-anchor="end" fill="#333" stroke="#333" stroke-width="0.18">0.25</text>
<line x1="161.90" y1="222.05" x2="165.40" y2="222.05" stroke="#222" stroke-width="1.2"/>
<text x="159.10" y="224.20" font-size="6" text-anchor="end" fill="#333" stroke="#333" stroke-width="0.18">0.50</text>
<line x1="161.90" y1="205.32" x2="165.40" y2="205.32" stroke="#222" stroke-width="1.2"/>
<text x="159.10" y="207.47" font-size="6" text-anchor="end" fill="#333" stroke="#333" stroke-width="0.18">0.75</text>
<line x1="161.90" y1="188.60" x2="165.40" y2="188.60" stroke="#222" stroke-width="1.2"/>
<text x="159.10" y="190.75" font-size="6" text-anchor="end" fill="#333" stroke="#333" stroke-width="0.18">1.00</text>
<line x1="170.40" y1="258.60" x2="170.40" y2="261.60" stroke="#222" stroke-width="1.2"/>
<text x="170.40" y="270.50" font-size="6" text-anchor="middle" fill="#333" stroke="#333" stroke-width="0.18">0</text>
<line x1="186.42" y1="258.60" x2="186.42" y2="261.60" stroke="#222" stroke-width="1.2"/>
<text x="186.42" y="270.50" font-size="6" text-anchor="middle" fill="#333" stroke="#333" stroke-width="0.18">12</text>
<line x1="202.44" y1="258.60" x2="202.44" y2="261.60" stroke="#222" stroke-width="1.2"/>
<text x="202.44" y="270.50" font-size="6" text-anchor="middle" fill="#333" stroke="#333" stroke-width="0.18">24</text>
<line x1="218.46" y1="258.60" x2="218.46" y2="261.60" stroke="#222" stroke-width="1.2"/>
<text x="218.46" y="270.50" font-size="6" text-anchor="middle" fill="#333" stroke="#333" stroke-width="0.18">36</text>
<line x1="234.48" y1="258.60" x2="234.48" y2="261.60" stroke="#222" stroke-width="1.2"/>
<text x="234.48" y="270.50" font-size="6" text-anchor="middle" fill="#333" stroke="#333" stroke-width="0.18">48</text>
<line x1="250.50" y1="258.60" x2="250.50" y2="261.60" stroke="#222" stroke-width="1.2"/>
<text x="250.50" y="270.50" font-size="6" text-anchor="middle" fill="#333" stroke="#333" stroke-width="0.18">60</text>
<text x="141.60" y="221.55" font-size="7.8" text-anchor="middle" fill="#222" stroke="#222" stroke-width="0.28" textLength="38" lengthAdjust="spacingAndGlyphs" transform="rotate(-90 141.60 221.55)">Overall survival</text>
<line x1="166.70" y1="180.00" x2="172.90" y2="180.00" stroke="#3d6895" stroke-width="1"/>
<line x1="169.80" y1="178.80" x2="169.80" y2="181.20" stroke="#3d6895" stroke-width="0.6"/>
<text x="176.00" y="182.20" font-size="6.4" text-anchor="start" fill="#333" stroke="#333" stroke-width="0.18" textLength="31.4" lengthAdjust="spacingAndGlyphs">CD3 = high</text>
<line x1="213.70" y1="180.00" x2="220.30" y2="180.00" stroke="#c3345a" stroke-width="1"/>
<line x1="217.00" y1="178.80" x2="217.00" y2="181.20" stroke="#c3345a" stroke-width="0.6"/>
<text x="222.90" y="182.20" font-size="6.4" text-anchor="start" fill="#333" stroke="#333" stroke-width="0.18" textLength="30.5" lengthAdjust="spacingAndGlyphs">CD3 = low</text>
<polyline points="170.20,188.60 182.30,188.60 182.30,193.50 207.40,193.50 207.40,199.20 231.30,199.20 231.30,205.60 255.00,205.60" fill="none" stroke="#3d6895" stroke-width="1.1" stroke-linejoin="miter"/>
<path d="M184.50 192.20V194.80" stroke="#3d6895" stroke-width="0.7"/>
<path d="M198.00 192.20V194.80" stroke="#3d6895" stroke-width="0.7"/>
<path d="M242.00 204.30V206.90" stroke="#3d6895" stroke-width="0.7"/>
<path d="M252.00 204.30V206.90" stroke="#3d6895" stroke-width="0.7"/>
<polyline points="170.20,188.90 171.95,188.90 171.95,190.35 173.70,190.35 173.70,191.80 174.95,191.80 174.95,193.95 176.20,193.95 176.20,196.10 176.80,196.10 176.80,197.83 177.40,197.83 177.40,199.57 178.00,199.57 178.00,201.30 178.87,201.30 178.87,203.33 179.73,203.33 179.73,205.37 180.60,205.37 180.60,207.40 182.30,207.40 182.30,208.70 187.50,208.70 187.50,209.60 188.80,209.60 188.80,211.50 190.10,211.50 190.10,213.40 191.40,213.40 191.40,215.15 192.70,215.15 192.70,216.90 193.55,216.90 193.55,218.45 194.40,218.45 194.40,220.00 217.80,220.00 218.65,220.00 218.65,221.45 219.50,221.45 219.50,222.90 220.35,222.90 220.35,224.65 221.20,224.65 221.20,226.40 223.80,226.40 223.80,228.10 229.00,228.10 229.00,229.90 230.80,229.90 230.80,232.10 255.00,232.10" fill="none" stroke="#c3345a" stroke-width="1.1" stroke-linejoin="miter"/>
<path d="M205.00 218.70V221.30" stroke="#c3345a" stroke-width="0.7"/>
<path d="M240.00 230.80V233.40" stroke="#c3345a" stroke-width="0.7"/>
<path d="M247.00 230.80V233.40" stroke="#c3345a" stroke-width="0.7"/>
<text x="174.00" y="244.20" font-size="6.4" fill="#333" stroke="#333" stroke-width="0.18" textLength="27.1" lengthAdjust="spacingAndGlyphs"><tspan font-style="italic">P</tspan> = .0079</text>
<line x1="165.40" y1="274.80" x2="165.40" y2="293.70" stroke="#222" stroke-width="1.2"/>
<line x1="164.90" y1="293.70" x2="254.70" y2="293.70" stroke="#222" stroke-width="1.2"/>
<line x1="170.40" y1="293.70" x2="170.40" y2="296.50" stroke="#222" stroke-width="1.2"/>
<text x="170.40" y="305.75" font-size="6" text-anchor="middle" fill="#333" stroke="#333" stroke-width="0.18">0</text>
<line x1="186.42" y1="293.70" x2="186.42" y2="296.50" stroke="#222" stroke-width="1.2"/>
<text x="186.42" y="305.75" font-size="6" text-anchor="middle" fill="#333" stroke="#333" stroke-width="0.18">12</text>
<line x1="202.44" y1="293.70" x2="202.44" y2="296.50" stroke="#222" stroke-width="1.2"/>
<text x="202.44" y="305.75" font-size="6" text-anchor="middle" fill="#333" stroke="#333" stroke-width="0.18">24</text>
<line x1="218.46" y1="293.70" x2="218.46" y2="296.50" stroke="#222" stroke-width="1.2"/>
<text x="218.46" y="305.75" font-size="6" text-anchor="middle" fill="#333" stroke="#333" stroke-width="0.18">36</text>
<line x1="234.48" y1="293.70" x2="234.48" y2="296.50" stroke="#222" stroke-width="1.2"/>
<text x="234.48" y="305.75" font-size="6" text-anchor="middle" fill="#333" stroke="#333" stroke-width="0.18">48</text>
<line x1="250.50" y1="293.70" x2="250.50" y2="296.50" stroke="#222" stroke-width="1.2"/>
<text x="250.50" y="305.75" font-size="6" text-anchor="middle" fill="#333" stroke="#333" stroke-width="0.18">60</text>
<line x1="152.40" y1="278.20" x2="161.80" y2="278.20" stroke="#3d6895" stroke-width="1"/>
<text x="170.40" y="280.40" font-size="6" text-anchor="middle" fill="#4a74a3" stroke="#4a74a3" stroke-width="0.18">13</text>
<text x="186.42" y="280.40" font-size="6" text-anchor="middle" fill="#4a74a3" stroke="#4a74a3" stroke-width="0.18">11</text>
<text x="202.44" y="280.40" font-size="6" text-anchor="middle" fill="#4a74a3" stroke="#4a74a3" stroke-width="0.18">11</text>
<text x="218.46" y="280.40" font-size="6" text-anchor="middle" fill="#4a74a3" stroke="#4a74a3" stroke-width="0.18">10</text>
<text x="234.48" y="280.40" font-size="6" text-anchor="middle" fill="#4a74a3" stroke="#4a74a3" stroke-width="0.18">8</text>
<text x="250.50" y="280.40" font-size="6" text-anchor="middle" fill="#4a74a3" stroke="#4a74a3" stroke-width="0.18">8</text>
<line x1="152.40" y1="288.00" x2="161.80" y2="288.00" stroke="#c3345a" stroke-width="1"/>
<text x="170.40" y="290.20" font-size="6" text-anchor="middle" fill="#c43a5f" stroke="#c43a5f" stroke-width="0.18">43</text>
<text x="186.42" y="290.20" font-size="6" text-anchor="middle" fill="#c43a5f" stroke="#c43a5f" stroke-width="0.18">27</text>
<text x="202.44" y="290.20" font-size="6" text-anchor="middle" fill="#c43a5f" stroke="#c43a5f" stroke-width="0.18">20</text>
<text x="218.46" y="290.20" font-size="6" text-anchor="middle" fill="#c43a5f" stroke="#c43a5f" stroke-width="0.18">17</text>
<text x="234.48" y="290.20" font-size="6" text-anchor="middle" fill="#c43a5f" stroke="#c43a5f" stroke-width="0.18">11</text>
<text x="250.50" y="290.20" font-size="6" text-anchor="middle" fill="#c43a5f" stroke="#c43a5f" stroke-width="0.18">7</text>
<text x="210.75" y="316.70" font-size="7.8" text-anchor="middle" fill="#222" stroke="#222" stroke-width="0.3" textLength="57.3" lengthAdjust="spacingAndGlyphs">Survival time (months)</text>
<line x1="294.30" y1="185.40" x2="294.30" y2="258.60" stroke="#222" stroke-width="1.2"/>
<line x1="293.80" y1="258.60" x2="383.60" y2="258.60" stroke="#222" stroke-width="1.2"/>
<line x1="290.80" y1="255.50" x2="294.30" y2="255.50" stroke="#222" stroke-width="1.2"/>
<text x="288.00" y="257.65" font-size="6" text-anchor="end" fill="#333" stroke="#333" stroke-width="0.18">0.00</text>
<line x1="290.80" y1="238.78" x2="294.30" y2="238.78" stroke="#222" stroke-width="1.2"/>
<text x="288.00" y="240.93" font-size="6" text-anchor="end" fill="#333" stroke="#333" stroke-width="0.18">0.25</text>
<line x1="290.80" y1="222.05" x2="294.30" y2="222.05" stroke="#222" stroke-width="1.2"/>
<text x="288.00" y="224.20" font-size="6" text-anchor="end" fill="#333" stroke="#333" stroke-width="0.18">0.50</text>
<line x1="290.80" y1="205.32" x2="294.30" y2="205.32" stroke="#222" stroke-width="1.2"/>
<text x="288.00" y="207.47" font-size="6" text-anchor="end" fill="#333" stroke="#333" stroke-width="0.18">0.75</text>
<line x1="290.80" y1="188.60" x2="294.30" y2="188.60" stroke="#222" stroke-width="1.2"/>
<text x="288.00" y="190.75" font-size="6" text-anchor="end" fill="#333" stroke="#333" stroke-width="0.18">1.00</text>
<line x1="299.30" y1="258.60" x2="299.30" y2="261.60" stroke="#222" stroke-width="1.2"/>
<text x="299.30" y="270.50" font-size="6" text-anchor="middle" fill="#333" stroke="#333" stroke-width="0.18">0</text>
<line x1="315.32" y1="258.60" x2="315.32" y2="261.60" stroke="#222" stroke-width="1.2"/>
<text x="315.32" y="270.50" font-size="6" text-anchor="middle" fill="#333" stroke="#333" stroke-width="0.18">12</text>
<line x1="331.34" y1="258.60" x2="331.34" y2="261.60" stroke="#222" stroke-width="1.2"/>
<text x="331.34" y="270.50" font-size="6" text-anchor="middle" fill="#333" stroke="#333" stroke-width="0.18">24</text>
<line x1="347.36" y1="258.60" x2="347.36" y2="261.60" stroke="#222" stroke-width="1.2"/>
<text x="347.36" y="270.50" font-size="6" text-anchor="middle" fill="#333" stroke="#333" stroke-width="0.18">36</text>
<line x1="363.38" y1="258.60" x2="363.38" y2="261.60" stroke="#222" stroke-width="1.2"/>
<text x="363.38" y="270.50" font-size="6" text-anchor="middle" fill="#333" stroke="#333" stroke-width="0.18">48</text>
<line x1="379.40" y1="258.60" x2="379.40" y2="261.60" stroke="#222" stroke-width="1.2"/>
<text x="379.40" y="270.50" font-size="6" text-anchor="middle" fill="#333" stroke="#333" stroke-width="0.18">60</text>
<text x="270.60" y="221.55" font-size="7.8" text-anchor="middle" fill="#222" stroke="#222" stroke-width="0.28" textLength="62.8" lengthAdjust="spacingAndGlyphs" transform="rotate(-90 270.60 221.55)">Progression free survival</text>
<line x1="295.50" y1="180.00" x2="301.70" y2="180.00" stroke="#3d6895" stroke-width="1"/>
<line x1="298.60" y1="178.80" x2="298.60" y2="181.20" stroke="#3d6895" stroke-width="0.6"/>
<text x="304.70" y="182.20" font-size="6.4" text-anchor="start" fill="#333" stroke="#333" stroke-width="0.18" textLength="31.5" lengthAdjust="spacingAndGlyphs">CD8 = high</text>
<line x1="342.40" y1="180.00" x2="349.00" y2="180.00" stroke="#c3345a" stroke-width="1"/>
<line x1="345.70" y1="178.80" x2="345.70" y2="181.20" stroke="#c3345a" stroke-width="0.6"/>
<text x="352.20" y="182.20" font-size="6.4" text-anchor="start" fill="#333" stroke="#333" stroke-width="0.18" textLength="30.1" lengthAdjust="spacingAndGlyphs">CD8 = low</text>
<polyline points="299.60,188.60 301.80,188.60 301.80,191.30 304.40,191.30 304.40,193.50 305.10,193.50 305.10,195.53 305.80,195.53 305.80,197.57 306.50,197.57 306.50,199.60 306.93,199.60 306.93,201.90 307.37,201.90 307.37,204.20 307.80,204.20 307.80,206.50 309.10,206.50 309.10,208.65 310.40,208.65 310.40,210.80 313.90,210.80 314.75,210.80 314.75,212.55 315.60,212.55 315.60,214.30 316.90,214.30 316.90,216.45 318.20,216.45 318.20,218.60 320.80,218.60 320.80,221.20 321.70,221.20 321.70,223.35 322.60,223.35 322.60,225.50 326.90,225.50 326.90,226.40 331.20,226.40 331.20,228.10 335.50,228.10 335.50,229.00 336.40,229.00 336.40,231.10 345.90,231.10 345.90,231.60 351.10,231.60 351.10,233.30 356.30,233.30 356.30,234.20 359.80,234.20 359.80,235.40 365.00,235.40 365.00,235.90 366.70,235.90 366.70,237.30 371.90,237.30 371.90,238.50 373.60,238.50 373.60,239.70 384.00,239.70" fill="none" stroke="#3d6895" stroke-width="1.1" stroke-linejoin="miter"/>
<path d="M340.00 230.30V232.90" stroke="#3d6895" stroke-width="0.7"/>
<path d="M362.00 234.60V237.20" stroke="#3d6895" stroke-width="0.7"/>
<polyline points="299.60,189.50 300.70,189.50 300.70,193.65 301.80,193.65 301.80,197.80 302.65,197.80 302.65,202.15 303.50,202.15 303.50,206.50 304.35,206.50 304.35,210.40 305.20,210.40 305.20,214.30 307.00,214.30 307.00,220.30 308.70,220.30 308.70,224.70 311.30,224.70 311.30,229.00 313.00,229.00 313.00,229.90 316.50,229.90 316.50,233.30 318.20,233.30 318.20,237.70 319.10,237.70 319.10,241.50 333.80,241.50 335.50,241.50 335.50,246.30 345.10,246.30 345.10,247.20 345.90,247.20 345.90,251.50 349.00,251.50 349.00,252.40 349.00,255.20" fill="none" stroke="#c3345a" stroke-width="1.1" stroke-linejoin="miter"/>
<text x="347.70" y="203.80" font-size="6.4" fill="#333" stroke="#333" stroke-width="0.18" textLength="26.5" lengthAdjust="spacingAndGlyphs"><tspan font-style="italic">P</tspan> = .0021</text>
<line x1="294.30" y1="274.80" x2="294.30" y2="293.70" stroke="#222" stroke-width="1.2"/>
<line x1="293.80" y1="293.70" x2="383.60" y2="293.70" stroke="#222" stroke-width="1.2"/>
<line x1="299.30" y1="293.70" x2="299.30" y2="296.50" stroke="#222" stroke-width="1.2"/>
<text x="299.30" y="305.75" font-size="6" text-anchor="middle" fill="#333" stroke="#333" stroke-width="0.18">0</text>
<line x1="315.32" y1="293.70" x2="315.32" y2="296.50" stroke="#222" stroke-width="1.2"/>
<text x="315.32" y="305.75" font-size="6" text-anchor="middle" fill="#333" stroke="#333" stroke-width="0.18">12</text>
<line x1="331.34" y1="293.70" x2="331.34" y2="296.50" stroke="#222" stroke-width="1.2"/>
<text x="331.34" y="305.75" font-size="6" text-anchor="middle" fill="#333" stroke="#333" stroke-width="0.18">24</text>
<line x1="347.36" y1="293.70" x2="347.36" y2="296.50" stroke="#222" stroke-width="1.2"/>
<text x="347.36" y="305.75" font-size="6" text-anchor="middle" fill="#333" stroke="#333" stroke-width="0.18">36</text>
<line x1="363.38" y1="293.70" x2="363.38" y2="296.50" stroke="#222" stroke-width="1.2"/>
<text x="363.38" y="305.75" font-size="6" text-anchor="middle" fill="#333" stroke="#333" stroke-width="0.18">48</text>
<line x1="379.40" y1="293.70" x2="379.40" y2="296.50" stroke="#222" stroke-width="1.2"/>
<text x="379.40" y="305.75" font-size="6" text-anchor="middle" fill="#333" stroke="#333" stroke-width="0.18">60</text>
<line x1="281.30" y1="278.20" x2="290.70" y2="278.20" stroke="#3d6895" stroke-width="1"/>
<text x="299.30" y="280.40" font-size="6" text-anchor="middle" fill="#4a74a3" stroke="#4a74a3" stroke-width="0.18">40</text>
<text x="315.32" y="280.40" font-size="6" text-anchor="middle" fill="#4a74a3" stroke="#4a74a3" stroke-width="0.18">22</text>
<text x="331.34" y="280.40" font-size="6" text-anchor="middle" fill="#4a74a3" stroke="#4a74a3" stroke-width="0.18">15</text>
<text x="347.36" y="280.40" font-size="6" text-anchor="middle" fill="#4a74a3" stroke="#4a74a3" stroke-width="0.18">13</text>
<text x="363.38" y="280.40" font-size="6" text-anchor="middle" fill="#4a74a3" stroke="#4a74a3" stroke-width="0.18">9</text>
<text x="379.40" y="280.40" font-size="6" text-anchor="middle" fill="#4a74a3" stroke="#4a74a3" stroke-width="0.18">6</text>
<line x1="281.30" y1="288.00" x2="290.70" y2="288.00" stroke="#c3345a" stroke-width="1"/>
<text x="299.30" y="290.20" font-size="6" text-anchor="middle" fill="#c43a5f" stroke="#c43a5f" stroke-width="0.18">16</text>
<text x="315.32" y="290.20" font-size="6" text-anchor="middle" fill="#c43a5f" stroke="#c43a5f" stroke-width="0.18">5</text>
<text x="331.34" y="290.20" font-size="6" text-anchor="middle" fill="#c43a5f" stroke="#c43a5f" stroke-width="0.18">3</text>
<text x="347.36" y="290.20" font-size="6" text-anchor="middle" fill="#c43a5f" stroke="#c43a5f" stroke-width="0.18">1</text>
<text x="363.38" y="290.20" font-size="6" text-anchor="middle" fill="#c43a5f" stroke="#c43a5f" stroke-width="0.18">0</text>
<text x="379.40" y="290.20" font-size="6" text-anchor="middle" fill="#c43a5f" stroke="#c43a5f" stroke-width="0.18">0</text>
<text x="339.65" y="316.70" font-size="7.8" text-anchor="middle" fill="#222" stroke="#222" stroke-width="0.3" textLength="57.3" lengthAdjust="spacingAndGlyphs">Survival time (months)</text>
<line x1="421.80" y1="185.40" x2="421.80" y2="258.60" stroke="#222" stroke-width="1.2"/>
<line x1="421.30" y1="258.60" x2="511.50" y2="258.60" stroke="#222" stroke-width="1.2"/>
<line x1="418.30" y1="255.50" x2="421.80" y2="255.50" stroke="#222" stroke-width="1.2"/>
<text x="415.50" y="257.65" font-size="6" text-anchor="end" fill="#333" stroke="#333" stroke-width="0.18">0.00</text>
<line x1="418.30" y1="238.78" x2="421.80" y2="238.78" stroke="#222" stroke-width="1.2"/>
<text x="415.50" y="240.93" font-size="6" text-anchor="end" fill="#333" stroke="#333" stroke-width="0.18">0.25</text>
<line x1="418.30" y1="222.05" x2="421.80" y2="222.05" stroke="#222" stroke-width="1.2"/>
<text x="415.50" y="224.20" font-size="6" text-anchor="end" fill="#333" stroke="#333" stroke-width="0.18">0.50</text>
<line x1="418.30" y1="205.32" x2="421.80" y2="205.32" stroke="#222" stroke-width="1.2"/>
<text x="415.50" y="207.47" font-size="6" text-anchor="end" fill="#333" stroke="#333" stroke-width="0.18">0.75</text>
<line x1="418.30" y1="188.60" x2="421.80" y2="188.60" stroke="#222" stroke-width="1.2"/>
<text x="415.50" y="190.75" font-size="6" text-anchor="end" fill="#333" stroke="#333" stroke-width="0.18">1.00</text>
<line x1="426.90" y1="258.60" x2="426.90" y2="261.60" stroke="#222" stroke-width="1.2"/>
<text x="426.90" y="270.50" font-size="6" text-anchor="middle" fill="#333" stroke="#333" stroke-width="0.18">0</text>
<line x1="442.98" y1="258.60" x2="442.98" y2="261.60" stroke="#222" stroke-width="1.2"/>
<text x="442.98" y="270.50" font-size="6" text-anchor="middle" fill="#333" stroke="#333" stroke-width="0.18">12</text>
<line x1="459.06" y1="258.60" x2="459.06" y2="261.60" stroke="#222" stroke-width="1.2"/>
<text x="459.06" y="270.50" font-size="6" text-anchor="middle" fill="#333" stroke="#333" stroke-width="0.18">24</text>
<line x1="475.14" y1="258.60" x2="475.14" y2="261.60" stroke="#222" stroke-width="1.2"/>
<text x="475.14" y="270.50" font-size="6" text-anchor="middle" fill="#333" stroke="#333" stroke-width="0.18">36</text>
<line x1="491.22" y1="258.60" x2="491.22" y2="261.60" stroke="#222" stroke-width="1.2"/>
<text x="491.22" y="270.50" font-size="6" text-anchor="middle" fill="#333" stroke="#333" stroke-width="0.18">48</text>
<line x1="507.30" y1="258.60" x2="507.30" y2="261.60" stroke="#222" stroke-width="1.2"/>
<text x="507.30" y="270.50" font-size="6" text-anchor="middle" fill="#333" stroke="#333" stroke-width="0.18">60</text>
<text x="398.00" y="221.55" font-size="7.8" text-anchor="middle" fill="#222" stroke="#222" stroke-width="0.28" textLength="38.3" lengthAdjust="spacingAndGlyphs" transform="rotate(-90 398.00 221.55)">Overall survival</text>
<line x1="423.20" y1="180.00" x2="429.40" y2="180.00" stroke="#3d6895" stroke-width="1"/>
<line x1="426.30" y1="178.80" x2="426.30" y2="181.20" stroke="#3d6895" stroke-width="0.6"/>
<text x="432.00" y="182.20" font-size="6.4" text-anchor="start" fill="#333" stroke="#333" stroke-width="0.18" textLength="31.4" lengthAdjust="spacingAndGlyphs">CD8 = high</text>
<line x1="469.90" y1="180.00" x2="476.50" y2="180.00" stroke="#c3345a" stroke-width="1"/>
<line x1="473.20" y1="178.80" x2="473.20" y2="181.20" stroke="#c3345a" stroke-width="0.6"/>
<text x="479.30" y="182.20" font-size="6.4" text-anchor="start" fill="#333" stroke="#333" stroke-width="0.18" textLength="30.1" lengthAdjust="spacingAndGlyphs">CD8 = low</text>
<polyline points="427.10,188.60 430.50,188.60 430.50,190.90 432.20,190.90 432.20,193.50 434.00,193.50 434.00,196.10 436.60,196.10 436.60,198.70 440.00,198.70 440.00,200.40 445.20,200.40 445.20,201.30 448.70,201.30 448.70,202.70 451.30,202.70 451.30,204.40 464.30,204.40 464.30,205.60 469.50,205.60 469.50,206.50 474.70,206.50 474.70,207.90 478.10,207.90 478.10,210.00 482.40,210.00 482.40,211.70 485.90,211.70 485.90,213.40 487.60,213.40 487.60,215.20 511.00,215.20" fill="none" stroke="#3d6895" stroke-width="1.1" stroke-linejoin="miter"/>
<path d="M468.00 205.20V207.80" stroke="#3d6895" stroke-width="0.7"/>
<path d="M492.00 213.90V216.50" stroke="#3d6895" stroke-width="0.7"/>
<path d="M497.00 213.90V216.50" stroke="#3d6895" stroke-width="0.7"/>
<path d="M502.00 213.90V216.50" stroke="#3d6895" stroke-width="0.7"/>
<path d="M507.00 213.90V216.50" stroke="#3d6895" stroke-width="0.7"/>
<polyline points="427.10,188.60 431.40,188.60 431.40,192.70 432.25,192.70 432.25,196.55 433.10,196.55 433.10,200.40 435.70,200.40 435.70,204.80 436.55,204.80 436.55,208.25 437.40,208.25 437.40,211.70 440.00,211.70 440.00,215.20 443.50,215.20 443.50,216.00 445.20,216.00 445.20,218.60 447.00,218.60 447.00,222.90 448.70,222.90 448.70,226.40 450.40,226.40 450.40,230.40 476.00,230.40 477.20,230.40 477.20,235.10 477.80,235.10 477.80,240.20 487.60,240.20 487.60,248.00 498.90,248.00" fill="none" stroke="#c3345a" stroke-width="1.1" stroke-linejoin="miter"/>
<path d="M484.00 238.90V241.50" stroke="#c3345a" stroke-width="0.7"/>
<text x="431.00" y="243.80" font-size="6.4" fill="#333" stroke="#333" stroke-width="0.18" textLength="31.2" lengthAdjust="spacingAndGlyphs"><tspan font-style="italic">P</tspan> = .00099</text>
<line x1="421.80" y1="274.80" x2="421.80" y2="293.70" stroke="#222" stroke-width="1.2"/>
<line x1="421.30" y1="293.70" x2="511.50" y2="293.70" stroke="#222" stroke-width="1.2"/>
<line x1="426.90" y1="293.70" x2="426.90" y2="296.50" stroke="#222" stroke-width="1.2"/>
<text x="426.90" y="305.75" font-size="6" text-anchor="middle" fill="#333" stroke="#333" stroke-width="0.18">0</text>
<line x1="442.98" y1="293.70" x2="442.98" y2="296.50" stroke="#222" stroke-width="1.2"/>
<text x="442.98" y="305.75" font-size="6" text-anchor="middle" fill="#333" stroke="#333" stroke-width="0.18">12</text>
<line x1="459.06" y1="293.70" x2="459.06" y2="296.50" stroke="#222" stroke-width="1.2"/>
<text x="459.06" y="305.75" font-size="6" text-anchor="middle" fill="#333" stroke="#333" stroke-width="0.18">24</text>
<line x1="475.14" y1="293.70" x2="475.14" y2="296.50" stroke="#222" stroke-width="1.2"/>
<text x="475.14" y="305.75" font-size="6" text-anchor="middle" fill="#333" stroke="#333" stroke-width="0.18">36</text>
<line x1="491.22" y1="293.70" x2="491.22" y2="296.50" stroke="#222" stroke-width="1.2"/>
<text x="491.22" y="305.75" font-size="6" text-anchor="middle" fill="#333" stroke="#333" stroke-width="0.18">48</text>
<line x1="507.30" y1="293.70" x2="507.30" y2="296.50" stroke="#222" stroke-width="1.2"/>
<text x="507.30" y="305.75" font-size="6" text-anchor="middle" fill="#333" stroke="#333" stroke-width="0.18">60</text>
<line x1="408.80" y1="278.20" x2="418.20" y2="278.20" stroke="#3d6895" stroke-width="1"/>
<text x="426.90" y="280.40" font-size="6" text-anchor="middle" fill="#4a74a3" stroke="#4a74a3" stroke-width="0.18">35</text>
<text x="442.98" y="280.40" font-size="6" text-anchor="middle" fill="#4a74a3" stroke="#4a74a3" stroke-width="0.18">27</text>
<text x="459.06" y="280.40" font-size="6" text-anchor="middle" fill="#4a74a3" stroke="#4a74a3" stroke-width="0.18">25</text>
<text x="475.14" y="280.40" font-size="6" text-anchor="middle" fill="#4a74a3" stroke="#4a74a3" stroke-width="0.18">22</text>
<text x="491.22" y="280.40" font-size="6" text-anchor="middle" fill="#4a74a3" stroke="#4a74a3" stroke-width="0.18">18</text>
<text x="507.30" y="280.40" font-size="6" text-anchor="middle" fill="#4a74a3" stroke="#4a74a3" stroke-width="0.18">15</text>
<line x1="408.80" y1="288.00" x2="418.20" y2="288.00" stroke="#c3345a" stroke-width="1"/>
<text x="426.90" y="290.20" font-size="6" text-anchor="middle" fill="#c43a5f" stroke="#c43a5f" stroke-width="0.18">21</text>
<text x="442.98" y="290.20" font-size="6" text-anchor="middle" fill="#c43a5f" stroke="#c43a5f" stroke-width="0.18">11</text>
<text x="459.06" y="290.20" font-size="6" text-anchor="middle" fill="#c43a5f" stroke="#c43a5f" stroke-width="0.18">6</text>
<text x="475.14" y="290.20" font-size="6" text-anchor="middle" fill="#c43a5f" stroke="#c43a5f" stroke-width="0.18">5</text>
<text x="491.22" y="290.20" font-size="6" text-anchor="middle" fill="#c43a5f" stroke="#c43a5f" stroke-width="0.18">1</text>
<text x="507.30" y="290.20" font-size="6" text-anchor="middle" fill="#c43a5f" stroke="#c43a5f" stroke-width="0.18">0</text>
<text x="467.40" y="316.70" font-size="7.8" text-anchor="middle" fill="#222" stroke="#222" stroke-width="0.3" textLength="57.3" lengthAdjust="spacingAndGlyphs">Survival time (months)</text>
<line x1="37.30" y1="351.40" x2="37.30" y2="424.60" stroke="#222" stroke-width="1.2"/>
<line x1="36.80" y1="424.60" x2="126.60" y2="424.60" stroke="#222" stroke-width="1.2"/>
<line x1="33.80" y1="421.50" x2="37.30" y2="421.50" stroke="#222" stroke-width="1.2"/>
<text x="31.00" y="423.65" font-size="6" text-anchor="end" fill="#333" stroke="#333" stroke-width="0.18">0.00</text>
<line x1="33.80" y1="404.77" x2="37.30" y2="404.77" stroke="#222" stroke-width="1.2"/>
<text x="31.00" y="406.92" font-size="6" text-anchor="end" fill="#333" stroke="#333" stroke-width="0.18">0.25</text>
<line x1="33.80" y1="388.05" x2="37.30" y2="388.05" stroke="#222" stroke-width="1.2"/>
<text x="31.00" y="390.20" font-size="6" text-anchor="end" fill="#333" stroke="#333" stroke-width="0.18">0.50</text>
<line x1="33.80" y1="371.33" x2="37.30" y2="371.33" stroke="#222" stroke-width="1.2"/>
<text x="31.00" y="373.48" font-size="6" text-anchor="end" fill="#333" stroke="#333" stroke-width="0.18">0.75</text>
<line x1="33.80" y1="354.60" x2="37.30" y2="354.60" stroke="#222" stroke-width="1.2"/>
<text x="31.00" y="356.75" font-size="6" text-anchor="end" fill="#333" stroke="#333" stroke-width="0.18">1.00</text>
<line x1="41.90" y1="424.60" x2="41.90" y2="427.60" stroke="#222" stroke-width="1.2"/>
<text x="41.90" y="436.50" font-size="6" text-anchor="middle" fill="#333" stroke="#333" stroke-width="0.18">0</text>
<line x1="58.00" y1="424.60" x2="58.00" y2="427.60" stroke="#222" stroke-width="1.2"/>
<text x="58.00" y="436.50" font-size="6" text-anchor="middle" fill="#333" stroke="#333" stroke-width="0.18">12</text>
<line x1="74.10" y1="424.60" x2="74.10" y2="427.60" stroke="#222" stroke-width="1.2"/>
<text x="74.10" y="436.50" font-size="6" text-anchor="middle" fill="#333" stroke="#333" stroke-width="0.18">24</text>
<line x1="90.20" y1="424.60" x2="90.20" y2="427.60" stroke="#222" stroke-width="1.2"/>
<text x="90.20" y="436.50" font-size="6" text-anchor="middle" fill="#333" stroke="#333" stroke-width="0.18">36</text>
<line x1="106.30" y1="424.60" x2="106.30" y2="427.60" stroke="#222" stroke-width="1.2"/>
<text x="106.30" y="436.50" font-size="6" text-anchor="middle" fill="#333" stroke="#333" stroke-width="0.18">48</text>
<line x1="122.40" y1="424.60" x2="122.40" y2="427.60" stroke="#222" stroke-width="1.2"/>
<text x="122.40" y="436.50" font-size="6" text-anchor="middle" fill="#333" stroke="#333" stroke-width="0.18">60</text>
<text x="14.00" y="387.55" font-size="7.8" text-anchor="middle" fill="#222" stroke="#222" stroke-width="0.28" textLength="62.5" lengthAdjust="spacingAndGlyphs" transform="rotate(-90 14.00 387.55)">Progression free survival</text>
<line x1="34.30" y1="345.70" x2="40.50" y2="345.70" stroke="#3d6895" stroke-width="1"/>
<line x1="37.40" y1="344.50" x2="37.40" y2="346.90" stroke="#3d6895" stroke-width="0.6"/>
<text x="43.90" y="347.90" font-size="6.4" text-anchor="start" fill="#333" stroke="#333" stroke-width="0.18" textLength="35.2" lengthAdjust="spacingAndGlyphs">CD68 = high</text>
<line x1="85.80" y1="345.70" x2="92.40" y2="345.70" stroke="#c3345a" stroke-width="1"/>
<line x1="89.10" y1="344.50" x2="89.10" y2="346.90" stroke="#c3345a" stroke-width="0.6"/>
<text x="95.10" y="347.90" font-size="6.4" text-anchor="start" fill="#333" stroke="#333" stroke-width="0.18" textLength="35.9" lengthAdjust="spacingAndGlyphs">CD68 = low</text>
<polyline points="42.40,354.60 43.10,354.60 43.10,356.20 43.80,356.20 43.80,357.80 44.65,357.80 44.65,359.50 45.50,359.50 45.50,361.20 47.20,361.20 47.20,363.80 48.10,363.80 48.10,365.55 49.00,365.55 49.00,367.30 49.27,367.30 49.27,369.60 49.53,369.60 49.53,371.90 49.80,371.90 49.80,374.20 50.25,374.20 50.25,376.40 50.70,376.40 50.70,378.60 52.40,378.60 52.40,379.40 56.80,379.40 57.60,379.40 57.60,381.20 61.10,381.20 61.10,382.00 62.80,382.00 62.80,384.60 63.70,384.60 63.70,387.20 64.60,387.20 64.60,389.80 70.60,389.80 70.60,390.70 72.30,390.70 72.30,392.40 78.40,392.40 78.40,393.30 79.30,393.30 79.30,395.00 87.90,395.00 88.80,395.00 88.80,396.75 89.70,396.75 89.70,398.50 93.10,398.50 93.10,399.30 94.00,399.30 94.00,401.60 99.20,401.60 99.20,401.90 100.00,401.90 100.00,403.70 108.70,403.70 108.70,407.10 116.00,407.10 116.00,410.60 126.00,410.60" fill="none" stroke="#3d6895" stroke-width="1.1" stroke-linejoin="miter"/>
<path d="M83.00 393.70V396.30" stroke="#3d6895" stroke-width="0.7"/>
<path d="M104.00 402.40V405.00" stroke="#3d6895" stroke-width="0.7"/>
<polyline points="42.40,355.20 43.10,355.20 43.10,357.80 43.80,357.80 43.80,360.40 44.65,360.40 44.65,363.00 45.50,363.00 45.50,365.60 46.35,365.60 46.35,369.05 47.20,369.05 47.20,372.50 48.10,372.50 48.10,376.80 49.80,376.80 49.80,378.60 51.60,378.60 51.60,381.20 53.30,381.20 53.30,382.90 55.00,382.90 55.00,384.60 57.60,384.60 57.60,387.20 58.50,387.20 58.50,389.80 59.40,389.80 59.40,392.40 60.25,392.40 60.25,396.30 61.10,396.30 61.10,400.20 62.80,400.20 62.80,401.90 64.60,401.90 64.60,404.50 76.70,404.50 77.55,404.50 77.55,407.55 78.40,407.55 78.40,410.60 126.00,410.60" fill="none" stroke="#c3345a" stroke-width="1.1" stroke-linejoin="miter"/>
<path d="M70.00 403.20V405.80" stroke="#c3345a" stroke-width="0.7"/>
<text x="44.20" y="410.60" font-size="6.4" fill="#333" stroke="#333" stroke-width="0.18" textLength="19.3" lengthAdjust="spacingAndGlyphs"><tspan font-style="italic">P</tspan> = .25</text>
<line x1="37.30" y1="440.80" x2="37.30" y2="459.70" stroke="#222" stroke-width="1.2"/>
<line x1="36.80" y1="459.70" x2="126.60" y2="459.70" stroke="#222" stroke-width="1.2"/>
<line x1="41.90" y1="459.70" x2="41.90" y2="462.50" stroke="#222" stroke-width="1.2"/>
<text x="41.90" y="471.75" font-size="6" text-anchor="middle" fill="#333" stroke="#333" stroke-width="0.18">0</text>
<line x1="58.00" y1="459.70" x2="58.00" y2="462.50" stroke="#222" stroke-width="1.2"/>
<text x="58.00" y="471.75" font-size="6" text-anchor="middle" fill="#333" stroke="#333" stroke-width="0.18">12</text>
<line x1="74.10" y1="459.70" x2="74.10" y2="462.50" stroke="#222" stroke-width="1.2"/>
<text x="74.10" y="471.75" font-size="6" text-anchor="middle" fill="#333" stroke="#333" stroke-width="0.18">24</text>
<line x1="90.20" y1="459.70" x2="90.20" y2="462.50" stroke="#222" stroke-width="1.2"/>
<text x="90.20" y="471.75" font-size="6" text-anchor="middle" fill="#333" stroke="#333" stroke-width="0.18">36</text>
<line x1="106.30" y1="459.70" x2="106.30" y2="462.50" stroke="#222" stroke-width="1.2"/>
<text x="106.30" y="471.75" font-size="6" text-anchor="middle" fill="#333" stroke="#333" stroke-width="0.18">48</text>
<line x1="122.40" y1="459.70" x2="122.40" y2="462.50" stroke="#222" stroke-width="1.2"/>
<text x="122.40" y="471.75" font-size="6" text-anchor="middle" fill="#333" stroke="#333" stroke-width="0.18">60</text>
<line x1="24.30" y1="444.20" x2="33.70" y2="444.20" stroke="#3d6895" stroke-width="1"/>
<text x="41.90" y="446.40" font-size="6" text-anchor="middle" fill="#4a74a3" stroke="#4a74a3" stroke-width="0.18">35</text>
<text x="58.00" y="446.40" font-size="6" text-anchor="middle" fill="#4a74a3" stroke="#4a74a3" stroke-width="0.18">17</text>
<text x="74.10" y="446.40" font-size="6" text-anchor="middle" fill="#4a74a3" stroke="#4a74a3" stroke-width="0.18">13</text>
<text x="90.20" y="446.40" font-size="6" text-anchor="middle" fill="#4a74a3" stroke="#4a74a3" stroke-width="0.18">11</text>
<text x="106.30" y="446.40" font-size="6" text-anchor="middle" fill="#4a74a3" stroke="#4a74a3" stroke-width="0.18">6</text>
<text x="122.40" y="446.40" font-size="6" text-anchor="middle" fill="#4a74a3" stroke="#4a74a3" stroke-width="0.18">3</text>
<line x1="24.30" y1="454.00" x2="33.70" y2="454.00" stroke="#c3345a" stroke-width="1"/>
<text x="41.90" y="456.20" font-size="6" text-anchor="middle" fill="#c43a5f" stroke="#c43a5f" stroke-width="0.18">21</text>
<text x="58.00" y="456.20" font-size="6" text-anchor="middle" fill="#c43a5f" stroke="#c43a5f" stroke-width="0.18">10</text>
<text x="74.10" y="456.20" font-size="6" text-anchor="middle" fill="#c43a5f" stroke="#c43a5f" stroke-width="0.18">5</text>
<text x="90.20" y="456.20" font-size="6" text-anchor="middle" fill="#c43a5f" stroke="#c43a5f" stroke-width="0.18">3</text>
<text x="106.30" y="456.20" font-size="6" text-anchor="middle" fill="#c43a5f" stroke="#c43a5f" stroke-width="0.18">3</text>
<text x="122.40" y="456.20" font-size="6" text-anchor="middle" fill="#c43a5f" stroke="#c43a5f" stroke-width="0.18">3</text>
<text x="82.45" y="482.70" font-size="7.8" text-anchor="middle" fill="#222" stroke="#222" stroke-width="0.3" textLength="57.3" lengthAdjust="spacingAndGlyphs">Survival time (months)</text>
<line x1="165.40" y1="351.40" x2="165.40" y2="424.60" stroke="#222" stroke-width="1.2"/>
<line x1="164.90" y1="424.60" x2="254.70" y2="424.60" stroke="#222" stroke-width="1.2"/>
<line x1="161.90" y1="421.50" x2="165.40" y2="421.50" stroke="#222" stroke-width="1.2"/>
<text x="159.10" y="423.65" font-size="6" text-anchor="end" fill="#333" stroke="#333" stroke-width="0.18">0.00</text>
<line x1="161.90" y1="404.77" x2="165.40" y2="404.77" stroke="#222" stroke-width="1.2"/>
<text x="159.10" y="406.92" font-size="6" text-anchor="end" fill="#333" stroke="#333" stroke-width="0.18">0.25</text>
<line x1="161.90" y1="388.05" x2="165.40" y2="388.05" stroke="#222" stroke-width="1.2"/>
<text x="159.10" y="390.20" font-size="6" text-anchor="end" fill="#333" stroke="#333" stroke-width="0.18">0.50</text>
<line x1="161.90" y1="371.33" x2="165.40" y2="371.33" stroke="#222" stroke-width="1.2"/>
<text x="159.10" y="373.48" font-size="6" text-anchor="end" fill="#333" stroke="#333" stroke-width="0.18">0.75</text>
<line x1="161.90" y1="354.60" x2="165.40" y2="354.60" stroke="#222" stroke-width="1.2"/>
<text x="159.10" y="356.75" font-size="6" text-anchor="end" fill="#333" stroke="#333" stroke-width="0.18">1.00</text>
<line x1="170.40" y1="424.60" x2="170.40" y2="427.60" stroke="#222" stroke-width="1.2"/>
<text x="170.40" y="436.50" font-size="6" text-anchor="middle" fill="#333" stroke="#333" stroke-width="0.18">0</text>
<line x1="186.42" y1="424.60" x2="186.42" y2="427.60" stroke="#222" stroke-width="1.2"/>
<text x="186.42" y="436.50" font-size="6" text-anchor="middle" fill="#333" stroke="#333" stroke-width="0.18">12</text>
<line x1="202.44" y1="424.60" x2="202.44" y2="427.60" stroke="#222" stroke-width="1.2"/>
<text x="202.44" y="436.50" font-size="6" text-anchor="middle" fill="#333" stroke="#333" stroke-width="0.18">24</text>
<line x1="218.46" y1="424.60" x2="218.46" y2="427.60" stroke="#222" stroke-width="1.2"/>
<text x="218.46" y="436.50" font-size="6" text-anchor="middle" fill="#333" stroke="#333" stroke-width="0.18">36</text>
<line x1="234.48" y1="424.60" x2="234.48" y2="427.60" stroke="#222" stroke-width="1.2"/>
<text x="234.48" y="436.50" font-size="6" text-anchor="middle" fill="#333" stroke="#333" stroke-width="0.18">48</text>
<line x1="250.50" y1="424.60" x2="250.50" y2="427.60" stroke="#222" stroke-width="1.2"/>
<text x="250.50" y="436.50" font-size="6" text-anchor="middle" fill="#333" stroke="#333" stroke-width="0.18">60</text>
<text x="141.60" y="387.55" font-size="7.8" text-anchor="middle" fill="#222" stroke="#222" stroke-width="0.28" textLength="38" lengthAdjust="spacingAndGlyphs" transform="rotate(-90 141.60 387.55)">Overall survival</text>
<line x1="158.70" y1="345.70" x2="164.90" y2="345.70" stroke="#3d6895" stroke-width="1"/>
<line x1="161.80" y1="344.50" x2="161.80" y2="346.90" stroke="#3d6895" stroke-width="0.6"/>
<text x="167.80" y="347.90" font-size="6.4" text-anchor="start" fill="#333" stroke="#333" stroke-width="0.18" textLength="35.8" lengthAdjust="spacingAndGlyphs">CD68 = high</text>
<line x1="209.60" y1="345.70" x2="216.20" y2="345.70" stroke="#c3345a" stroke-width="1"/>
<line x1="212.90" y1="344.50" x2="212.90" y2="346.90" stroke="#c3345a" stroke-width="0.6"/>
<text x="218.70" y="347.90" font-size="6.4" text-anchor="start" fill="#333" stroke="#333" stroke-width="0.18" textLength="34.6" lengthAdjust="spacingAndGlyphs">CD68 = low</text>
<polyline points="170.60,354.60 173.50,354.60 173.50,356.10 175.20,356.10 175.20,357.80 176.10,357.80 176.10,359.50 177.00,359.50 177.00,361.20 178.70,361.20 178.70,363.80 181.30,363.80 181.30,366.40 183.00,366.40 183.00,368.20 183.90,368.20 183.90,369.40 191.70,369.40 192.60,369.40 192.60,371.60 221.10,371.60 221.55,371.60 221.55,373.80 222.00,373.80 222.00,376.00 227.20,376.00 227.20,376.80 228.90,376.80 228.90,378.60 230.60,378.60 230.60,381.20 231.50,381.20 231.50,383.70 254.00,383.70" fill="none" stroke="#3d6895" stroke-width="1.1" stroke-linejoin="miter"/>
<path d="M205.00 370.30V372.90" stroke="#3d6895" stroke-width="0.7"/>
<path d="M240.00 382.40V385.00" stroke="#3d6895" stroke-width="0.7"/>
<path d="M248.00 382.40V385.00" stroke="#3d6895" stroke-width="0.7"/>
<polyline points="170.60,354.60 174.40,354.60 174.40,356.90 176.10,356.90 176.10,368.20 180.40,368.20 180.40,375.10 190.00,375.10 190.00,380.30 190.80,380.30 190.80,385.50 194.30,385.50 194.30,392.40 207.30,392.40 207.30,396.40 219.40,396.40 219.40,400.20 220.20,400.20 220.20,403.30 254.00,403.30" fill="none" stroke="#c3345a" stroke-width="1.1" stroke-linejoin="miter"/>
<path d="M212.00 395.10V397.70" stroke="#c3345a" stroke-width="0.7"/>
<path d="M240.00 402.00V404.60" stroke="#c3345a" stroke-width="0.7"/>
<text x="172.30" y="411.20" font-size="6.4" fill="#333" stroke="#333" stroke-width="0.18" textLength="19.4" lengthAdjust="spacingAndGlyphs"><tspan font-style="italic">P</tspan> = .11</text>
<line x1="165.40" y1="440.80" x2="165.40" y2="459.70" stroke="#222" stroke-width="1.2"/>
<line x1="164.90" y1="459.70" x2="254.70" y2="459.70" stroke="#222" stroke-width="1.2"/>
<line x1="170.40" y1="459.70" x2="170.40" y2="462.50" stroke="#222" stroke-width="1.2"/>
<text x="170.40" y="471.75" font-size="6" text-anchor="middle" fill="#333" stroke="#333" stroke-width="0.18">0</text>
<line x1="186.42" y1="459.70" x2="186.42" y2="462.50" stroke="#222" stroke-width="1.2"/>
<text x="186.42" y="471.75" font-size="6" text-anchor="middle" fill="#333" stroke="#333" stroke-width="0.18">12</text>
<line x1="202.44" y1="459.70" x2="202.44" y2="462.50" stroke="#222" stroke-width="1.2"/>
<text x="202.44" y="471.75" font-size="6" text-anchor="middle" fill="#333" stroke="#333" stroke-width="0.18">24</text>
<line x1="218.46" y1="459.70" x2="218.46" y2="462.50" stroke="#222" stroke-width="1.2"/>
<text x="218.46" y="471.75" font-size="6" text-anchor="middle" fill="#333" stroke="#333" stroke-width="0.18">36</text>
<line x1="234.48" y1="459.70" x2="234.48" y2="462.50" stroke="#222" stroke-width="1.2"/>
<text x="234.48" y="471.75" font-size="6" text-anchor="middle" fill="#333" stroke="#333" stroke-width="0.18">48</text>
<line x1="250.50" y1="459.70" x2="250.50" y2="462.50" stroke="#222" stroke-width="1.2"/>
<text x="250.50" y="471.75" font-size="6" text-anchor="middle" fill="#333" stroke="#333" stroke-width="0.18">60</text>
<line x1="152.40" y1="444.20" x2="161.80" y2="444.20" stroke="#3d6895" stroke-width="1"/>
<text x="170.40" y="446.40" font-size="6" text-anchor="middle" fill="#4a74a3" stroke="#4a74a3" stroke-width="0.18">36</text>
<text x="186.42" y="446.40" font-size="6" text-anchor="middle" fill="#4a74a3" stroke="#4a74a3" stroke-width="0.18">25</text>
<text x="202.44" y="446.40" font-size="6" text-anchor="middle" fill="#4a74a3" stroke="#4a74a3" stroke-width="0.18">23</text>
<text x="218.46" y="446.40" font-size="6" text-anchor="middle" fill="#4a74a3" stroke="#4a74a3" stroke-width="0.18">21</text>
<text x="234.48" y="446.40" font-size="6" text-anchor="middle" fill="#4a74a3" stroke="#4a74a3" stroke-width="0.18">14</text>
<text x="250.50" y="446.40" font-size="6" text-anchor="middle" fill="#4a74a3" stroke="#4a74a3" stroke-width="0.18">10</text>
<line x1="152.40" y1="454.00" x2="161.80" y2="454.00" stroke="#c3345a" stroke-width="1"/>
<text x="170.40" y="456.20" font-size="6" text-anchor="middle" fill="#c43a5f" stroke="#c43a5f" stroke-width="0.18">20</text>
<text x="186.42" y="456.20" font-size="6" text-anchor="middle" fill="#c43a5f" stroke="#c43a5f" stroke-width="0.18">13</text>
<text x="202.44" y="456.20" font-size="6" text-anchor="middle" fill="#c43a5f" stroke="#c43a5f" stroke-width="0.18">8</text>
<text x="218.46" y="456.20" font-size="6" text-anchor="middle" fill="#c43a5f" stroke="#c43a5f" stroke-width="0.18">6</text>
<text x="234.48" y="456.20" font-size="6" text-anchor="middle" fill="#c43a5f" stroke="#c43a5f" stroke-width="0.18">5</text>
<text x="250.50" y="456.20" font-size="6" text-anchor="middle" fill="#c43a5f" stroke="#c43a5f" stroke-width="0.18">5</text>
<text x="210.75" y="482.70" font-size="7.8" text-anchor="middle" fill="#222" stroke="#222" stroke-width="0.3" textLength="57.3" lengthAdjust="spacingAndGlyphs">Survival time (months)</text>
<line x1="294.30" y1="351.40" x2="294.30" y2="424.60" stroke="#222" stroke-width="1.2"/>
<line x1="293.80" y1="424.60" x2="383.60" y2="424.60" stroke="#222" stroke-width="1.2"/>
<line x1="290.80" y1="421.50" x2="294.30" y2="421.50" stroke="#222" stroke-width="1.2"/>
<text x="288.00" y="423.65" font-size="6" text-anchor="end" fill="#333" stroke="#333" stroke-width="0.18">0.00</text>
<line x1="290.80" y1="404.77" x2="294.30" y2="404.77" stroke="#222" stroke-width="1.2"/>
<text x="288.00" y="406.92" font-size="6" text-anchor="end" fill="#333" stroke="#333" stroke-width="0.18">0.25</text>
<line x1="290.80" y1="388.05" x2="294.30" y2="388.05" stroke="#222" stroke-width="1.2"/>
<text x="288.00" y="390.20" font-size="6" text-anchor="end" fill="#333" stroke="#333" stroke-width="0.18">0.50</text>
<line x1="290.80" y1="371.33" x2="294.30" y2="371.33" stroke="#222" stroke-width="1.2"/>
<text x="288.00" y="373.48" font-size="6" text-anchor="end" fill="#333" stroke="#333" stroke-width="0.18">0.75</text>
<line x1="290.80" y1="354.60" x2="294.30" y2="354.60" stroke="#222" stroke-width="1.2"/>
<text x="288.00" y="356.75" font-size="6" text-anchor="end" fill="#333" stroke="#333" stroke-width="0.18">1.00</text>
<line x1="299.30" y1="424.60" x2="299.30" y2="427.60" stroke="#222" stroke-width="1.2"/>
<text x="299.30" y="436.50" font-size="6" text-anchor="middle" fill="#333" stroke="#333" stroke-width="0.18">0</text>
<line x1="315.32" y1="424.60" x2="315.32" y2="427.60" stroke="#222" stroke-width="1.2"/>
<text x="315.32" y="436.50" font-size="6" text-anchor="middle" fill="#333" stroke="#333" stroke-width="0.18">12</text>
<line x1="331.34" y1="424.60" x2="331.34" y2="427.60" stroke="#222" stroke-width="1.2"/>
<text x="331.34" y="436.50" font-size="6" text-anchor="middle" fill="#333" stroke="#333" stroke-width="0.18">24</text>
<line x1="347.36" y1="424.60" x2="347.36" y2="427.60" stroke="#222" stroke-width="1.2"/>
<text x="347.36" y="436.50" font-size="6" text-anchor="middle" fill="#333" stroke="#333" stroke-width="0.18">36</text>
<line x1="363.38" y1="424.60" x2="363.38" y2="427.60" stroke="#222" stroke-width="1.2"/>
<text x="363.38" y="436.50" font-size="6" text-anchor="middle" fill="#333" stroke="#333" stroke-width="0.18">48</text>
<line x1="379.40" y1="424.60" x2="379.40" y2="427.60" stroke="#222" stroke-width="1.2"/>
<text x="379.40" y="436.50" font-size="6" text-anchor="middle" fill="#333" stroke="#333" stroke-width="0.18">60</text>
<text x="270.60" y="387.55" font-size="7.8" text-anchor="middle" fill="#222" stroke="#222" stroke-width="0.28" textLength="62.8" lengthAdjust="spacingAndGlyphs" transform="rotate(-90 270.60 387.55)">Progression free survival</text>
<line x1="285.20" y1="345.70" x2="291.40" y2="345.70" stroke="#3d6895" stroke-width="1"/>
<line x1="288.30" y1="344.50" x2="288.30" y2="346.90" stroke="#3d6895" stroke-width="0.6"/>
<text x="294.30" y="347.90" font-size="6.4" text-anchor="start" fill="#333" stroke="#333" stroke-width="0.18" textLength="38.5" lengthAdjust="spacingAndGlyphs">CD138 = neg</text>
<line x1="336.00" y1="345.70" x2="342.60" y2="345.70" stroke="#c3345a" stroke-width="1"/>
<line x1="339.30" y1="344.50" x2="339.30" y2="346.90" stroke="#c3345a" stroke-width="0.6"/>
<text x="345.50" y="347.90" font-size="6.4" text-anchor="start" fill="#333" stroke="#333" stroke-width="0.18" textLength="38.5" lengthAdjust="spacingAndGlyphs">CD138 = pos</text>
<polyline points="299.60,354.60 300.80,354.60 300.80,357.80 301.65,357.80 301.65,359.50 302.50,359.50 302.50,361.20 303.35,361.20 303.35,363.40 304.20,363.40 304.20,365.60 305.10,365.60 305.10,367.30 306.00,367.30 306.00,369.00 306.85,369.00 306.85,370.75 307.70,370.75 307.70,372.50 308.55,372.50 308.55,374.25 309.40,374.25 309.40,376.00 311.20,376.00 311.20,376.80 313.80,376.80 314.20,376.80 314.20,378.55 314.60,378.55 314.60,380.30 315.50,380.30 315.50,382.00 316.40,382.00 316.40,383.70 319.00,383.70 319.00,386.30 319.85,386.30 319.85,388.05 320.70,388.05 320.70,389.80 321.55,389.80 321.55,391.55 322.40,391.55 322.40,393.30 325.90,393.30 325.90,394.10 329.30,394.10 329.30,395.30 334.50,395.30 334.50,395.90 335.40,395.90 335.40,401.90 345.80,401.90 345.80,403.70 350.10,403.70 350.10,404.50 358.80,404.50 365.70,404.50 365.70,407.10 373.50,407.10 373.50,409.70 383.00,409.70" fill="none" stroke="#3d6895" stroke-width="1.1" stroke-linejoin="miter"/>
<path d="M340.00 400.60V403.20" stroke="#3d6895" stroke-width="0.7"/>
<path d="M362.00 403.20V405.80" stroke="#3d6895" stroke-width="0.7"/>
<polyline points="299.60,355.20 301.70,355.20 301.70,358.70 303.40,358.70 303.40,363.00 304.25,363.00 304.25,366.00 305.10,366.00 305.10,369.00 305.80,369.00 305.80,372.50 306.50,372.50 306.50,376.00 306.85,376.00 306.85,379.85 307.20,379.85 307.20,383.70 308.60,383.70 308.60,386.30 311.20,386.30 311.20,389.80 315.50,389.80 315.50,390.70 317.20,390.70 317.20,391.50 319.00,391.50 319.00,395.00 319.80,395.00 319.80,398.50 344.90,398.50 345.80,398.50 345.80,401.90 348.40,401.90 348.40,402.80 350.10,402.80 350.10,406.20 356.20,406.20 356.20,407.10 357.00,407.10 357.00,409.70 383.00,409.70" fill="none" stroke="#c3345a" stroke-width="1.1" stroke-linejoin="miter"/>
<path d="M330.00 397.20V399.80" stroke="#c3345a" stroke-width="0.7"/>
<text x="301.30" y="411.20" font-size="6.4" fill="#333" stroke="#333" stroke-width="0.18" textLength="20.8" lengthAdjust="spacingAndGlyphs"><tspan font-style="italic">P</tspan> = .36</text>
<line x1="294.30" y1="440.80" x2="294.30" y2="459.70" stroke="#222" stroke-width="1.2"/>
<line x1="293.80" y1="459.70" x2="383.60" y2="459.70" stroke="#222" stroke-width="1.2"/>
<line x1="299.30" y1="459.70" x2="299.30" y2="462.50" stroke="#222" stroke-width="1.2"/>
<text x="299.30" y="471.75" font-size="6" text-anchor="middle" fill="#333" stroke="#333" stroke-width="0.18">0</text>
<line x1="315.32" y1="459.70" x2="315.32" y2="462.50" stroke="#222" stroke-width="1.2"/>
<text x="315.32" y="471.75" font-size="6" text-anchor="middle" fill="#333" stroke="#333" stroke-width="0.18">12</text>
<line x1="331.34" y1="459.70" x2="331.34" y2="462.50" stroke="#222" stroke-width="1.2"/>
<text x="331.34" y="471.75" font-size="6" text-anchor="middle" fill="#333" stroke="#333" stroke-width="0.18">24</text>
<line x1="347.36" y1="459.70" x2="347.36" y2="462.50" stroke="#222" stroke-width="1.2"/>
<text x="347.36" y="471.75" font-size="6" text-anchor="middle" fill="#333" stroke="#333" stroke-width="0.18">36</text>
<line x1="363.38" y1="459.70" x2="363.38" y2="462.50" stroke="#222" stroke-width="1.2"/>
<text x="363.38" y="471.75" font-size="6" text-anchor="middle" fill="#333" stroke="#333" stroke-width="0.18">48</text>
<line x1="379.40" y1="459.70" x2="379.40" y2="462.50" stroke="#222" stroke-width="1.2"/>
<text x="379.40" y="471.75" font-size="6" text-anchor="middle" fill="#333" stroke="#333" stroke-width="0.18">60</text>
<line x1="281.30" y1="444.20" x2="290.70" y2="444.20" stroke="#3d6895" stroke-width="1"/>
<text x="299.30" y="446.40" font-size="6" text-anchor="middle" fill="#4a74a3" stroke="#4a74a3" stroke-width="0.18">34</text>
<text x="315.32" y="446.40" font-size="6" text-anchor="middle" fill="#4a74a3" stroke="#4a74a3" stroke-width="0.18">19</text>
<text x="331.34" y="446.40" font-size="6" text-anchor="middle" fill="#4a74a3" stroke="#4a74a3" stroke-width="0.18">12</text>
<text x="347.36" y="446.40" font-size="6" text-anchor="middle" fill="#4a74a3" stroke="#4a74a3" stroke-width="0.18">9</text>
<text x="363.38" y="446.40" font-size="6" text-anchor="middle" fill="#4a74a3" stroke="#4a74a3" stroke-width="0.18">7</text>
<text x="379.40" y="446.40" font-size="6" text-anchor="middle" fill="#4a74a3" stroke="#4a74a3" stroke-width="0.18">4</text>
<line x1="281.30" y1="454.00" x2="290.70" y2="454.00" stroke="#c3345a" stroke-width="1"/>
<text x="299.30" y="456.20" font-size="6" text-anchor="middle" fill="#c43a5f" stroke="#c43a5f" stroke-width="0.18">22</text>
<text x="315.32" y="456.20" font-size="6" text-anchor="middle" fill="#c43a5f" stroke="#c43a5f" stroke-width="0.18">8</text>
<text x="331.34" y="456.20" font-size="6" text-anchor="middle" fill="#c43a5f" stroke="#c43a5f" stroke-width="0.18">6</text>
<text x="347.36" y="456.20" font-size="6" text-anchor="middle" fill="#c43a5f" stroke="#c43a5f" stroke-width="0.18">5</text>
<text x="363.38" y="456.20" font-size="6" text-anchor="middle" fill="#c43a5f" stroke="#c43a5f" stroke-width="0.18">2</text>
<text x="379.40" y="456.20" font-size="6" text-anchor="middle" fill="#c43a5f" stroke="#c43a5f" stroke-width="0.18">2</text>
<text x="339.65" y="482.70" font-size="7.8" text-anchor="middle" fill="#222" stroke="#222" stroke-width="0.3" textLength="57.3" lengthAdjust="spacingAndGlyphs">Survival time (months)</text>
<line x1="421.80" y1="351.40" x2="421.80" y2="424.60" stroke="#222" stroke-width="1.2"/>
<line x1="421.30" y1="424.60" x2="511.50" y2="424.60" stroke="#222" stroke-width="1.2"/>
<line x1="418.30" y1="421.50" x2="421.80" y2="421.50" stroke="#222" stroke-width="1.2"/>
<text x="415.50" y="423.65" font-size="6" text-anchor="end" fill="#333" stroke="#333" stroke-width="0.18">0.00</text>
<line x1="418.30" y1="404.77" x2="421.80" y2="404.77" stroke="#222" stroke-width="1.2"/>
<text x="415.50" y="406.92" font-size="6" text-anchor="end" fill="#333" stroke="#333" stroke-width="0.18">0.25</text>
<line x1="418.30" y1="388.05" x2="421.80" y2="388.05" stroke="#222" stroke-width="1.2"/>
<text x="415.50" y="390.20" font-size="6" text-anchor="end" fill="#333" stroke="#333" stroke-width="0.18">0.50</text>
<line x1="418.30" y1="371.33" x2="421.80" y2="371.33" stroke="#222" stroke-width="1.2"/>
<text x="415.50" y="373.48" font-size="6" text-anchor="end" fill="#333" stroke="#333" stroke-width="0.18">0.75</text>
<line x1="418.30" y1="354.60" x2="421.80" y2="354.60" stroke="#222" stroke-width="1.2"/>
<text x="415.50" y="356.75" font-size="6" text-anchor="end" fill="#333" stroke="#333" stroke-width="0.18">1.00</text>
<line x1="426.90" y1="424.60" x2="426.90" y2="427.60" stroke="#222" stroke-width="1.2"/>
<text x="426.90" y="436.50" font-size="6" text-anchor="middle" fill="#333" stroke="#333" stroke-width="0.18">0</text>
<line x1="442.98" y1="424.60" x2="442.98" y2="427.60" stroke="#222" stroke-width="1.2"/>
<text x="442.98" y="436.50" font-size="6" text-anchor="middle" fill="#333" stroke="#333" stroke-width="0.18">12</text>
<line x1="459.06" y1="424.60" x2="459.06" y2="427.60" stroke="#222" stroke-width="1.2"/>
<text x="459.06" y="436.50" font-size="6" text-anchor="middle" fill="#333" stroke="#333" stroke-width="0.18">24</text>
<line x1="475.14" y1="424.60" x2="475.14" y2="427.60" stroke="#222" stroke-width="1.2"/>
<text x="475.14" y="436.50" font-size="6" text-anchor="middle" fill="#333" stroke="#333" stroke-width="0.18">36</text>
<line x1="491.22" y1="424.60" x2="491.22" y2="427.60" stroke="#222" stroke-width="1.2"/>
<text x="491.22" y="436.50" font-size="6" text-anchor="middle" fill="#333" stroke="#333" stroke-width="0.18">48</text>
<line x1="507.30" y1="424.60" x2="507.30" y2="427.60" stroke="#222" stroke-width="1.2"/>
<text x="507.30" y="436.50" font-size="6" text-anchor="middle" fill="#333" stroke="#333" stroke-width="0.18">60</text>
<text x="398.00" y="387.55" font-size="7.8" text-anchor="middle" fill="#222" stroke="#222" stroke-width="0.28" textLength="38.3" lengthAdjust="spacingAndGlyphs" transform="rotate(-90 398.00 387.55)">Overall survival</text>
<line x1="414.70" y1="345.70" x2="420.90" y2="345.70" stroke="#3d6895" stroke-width="1"/>
<line x1="417.80" y1="344.50" x2="417.80" y2="346.90" stroke="#3d6895" stroke-width="0.6"/>
<text x="423.80" y="347.90" font-size="6.4" text-anchor="start" fill="#333" stroke="#333" stroke-width="0.18" textLength="38.7" lengthAdjust="spacingAndGlyphs">CD138 = neg</text>
<line x1="466.00" y1="345.70" x2="472.60" y2="345.70" stroke="#c3345a" stroke-width="1"/>
<line x1="469.30" y1="344.50" x2="469.30" y2="346.90" stroke="#c3345a" stroke-width="0.6"/>
<text x="475.60" y="347.90" font-size="6.4" text-anchor="start" fill="#333" stroke="#333" stroke-width="0.18" textLength="38.1" lengthAdjust="spacingAndGlyphs">CD138 = pos</text>
<polyline points="427.10,354.40 432.20,354.40 432.65,354.40 432.65,356.10 433.10,356.10 433.10,357.80 434.80,357.80 434.80,360.40 436.60,360.40 436.60,363.50 437.40,363.50 437.40,366.40 445.20,366.40 447.00,366.40 447.00,369.00 448.70,369.00 448.70,371.60 450.40,371.60 450.40,374.20 451.30,374.20 451.30,377.20 463.40,377.20 464.30,377.20 464.30,379.10 472.90,379.10 472.90,379.80 474.70,379.80 474.70,381.20 476.40,381.20 476.40,382.90 482.40,382.90 482.40,383.70 485.00,383.70 485.00,385.50 486.80,385.50 486.80,388.10 511.00,388.10" fill="none" stroke="#3d6895" stroke-width="1.1" stroke-linejoin="miter"/>
<path d="M469.00 378.50V381.10" stroke="#3d6895" stroke-width="0.7"/>
<path d="M492.00 386.80V389.40" stroke="#3d6895" stroke-width="0.7"/>
<path d="M497.00 386.80V389.40" stroke="#3d6895" stroke-width="0.7"/>
<path d="M503.00 386.80V389.40" stroke="#3d6895" stroke-width="0.7"/>
<path d="M508.00 386.80V389.40" stroke="#3d6895" stroke-width="0.7"/>
<polyline points="427.10,355.20 428.80,355.20 428.80,357.80 431.40,357.80 431.40,361.20 432.20,361.20 432.20,365.60 434.00,365.60 434.00,368.20 436.60,368.20 436.60,371.60 439.20,371.60 439.20,376.00 440.00,376.00 440.00,378.60 445.20,378.60 445.20,379.10 446.60,379.10 446.60,382.00 474.70,382.00 476.40,382.00 476.40,384.60 477.20,384.60 477.20,387.20 478.10,387.20 478.10,391.50 487.60,391.50 487.60,395.90 511.00,395.90" fill="none" stroke="#c3345a" stroke-width="1.1" stroke-linejoin="miter"/>
<path d="M441.00 377.30V379.90" stroke="#c3345a" stroke-width="0.7"/>
<path d="M469.00 380.70V383.30" stroke="#c3345a" stroke-width="0.7"/>
<path d="M497.00 394.60V397.20" stroke="#c3345a" stroke-width="0.7"/>
<path d="M503.00 394.60V397.20" stroke="#c3345a" stroke-width="0.7"/>
<text x="429.30" y="411.20" font-size="6.4" fill="#333" stroke="#333" stroke-width="0.18" textLength="19.7" lengthAdjust="spacingAndGlyphs"><tspan font-style="italic">P</tspan> = .42</text>
<line x1="421.80" y1="440.80" x2="421.80" y2="459.70" stroke="#222" stroke-width="1.2"/>
<line x1="421.30" y1="459.70" x2="511.50" y2="459.70" stroke="#222" stroke-width="1.2"/>
<line x1="426.90" y1="459.70" x2="426.90" y2="462.50" stroke="#222" stroke-width="1.2"/>
<text x="426.90" y="471.75" font-size="6" text-anchor="middle" fill="#333" stroke="#333" stroke-width="0.18">0</text>
<line x1="442.98" y1="459.70" x2="442.98" y2="462.50" stroke="#222" stroke-width="1.2"/>
<text x="442.98" y="471.75" font-size="6" text-anchor="middle" fill="#333" stroke="#333" stroke-width="0.18">12</text>
<line x1="459.06" y1="459.70" x2="459.06" y2="462.50" stroke="#222" stroke-width="1.2"/>
<text x="459.06" y="471.75" font-size="6" text-anchor="middle" fill="#333" stroke="#333" stroke-width="0.18">24</text>
<line x1="475.14" y1="459.70" x2="475.14" y2="462.50" stroke="#222" stroke-width="1.2"/>
<text x="475.14" y="471.75" font-size="6" text-anchor="middle" fill="#333" stroke="#333" stroke-width="0.18">36</text>
<line x1="491.22" y1="459.70" x2="491.22" y2="462.50" stroke="#222" stroke-width="1.2"/>
<text x="491.22" y="471.75" font-size="6" text-anchor="middle" fill="#333" stroke="#333" stroke-width="0.18">48</text>
<line x1="507.30" y1="459.70" x2="507.30" y2="462.50" stroke="#222" stroke-width="1.2"/>
<text x="507.30" y="471.75" font-size="6" text-anchor="middle" fill="#333" stroke="#333" stroke-width="0.18">60</text>
<line x1="408.80" y1="444.20" x2="418.20" y2="444.20" stroke="#3d6895" stroke-width="1"/>
<text x="426.90" y="446.40" font-size="6" text-anchor="middle" fill="#4a74a3" stroke="#4a74a3" stroke-width="0.18">34</text>
<text x="442.98" y="446.40" font-size="6" text-anchor="middle" fill="#4a74a3" stroke="#4a74a3" stroke-width="0.18">26</text>
<text x="459.06" y="446.40" font-size="6" text-anchor="middle" fill="#4a74a3" stroke="#4a74a3" stroke-width="0.18">20</text>
<text x="475.14" y="446.40" font-size="6" text-anchor="middle" fill="#4a74a3" stroke="#4a74a3" stroke-width="0.18">18</text>
<text x="491.22" y="446.40" font-size="6" text-anchor="middle" fill="#4a74a3" stroke="#4a74a3" stroke-width="0.18">14</text>
<text x="507.30" y="446.40" font-size="6" text-anchor="middle" fill="#4a74a3" stroke="#4a74a3" stroke-width="0.18">11</text>
<line x1="408.80" y1="454.00" x2="418.20" y2="454.00" stroke="#c3345a" stroke-width="1"/>
<text x="426.90" y="456.20" font-size="6" text-anchor="middle" fill="#c43a5f" stroke="#c43a5f" stroke-width="0.18">22</text>
<text x="442.98" y="456.20" font-size="6" text-anchor="middle" fill="#c43a5f" stroke="#c43a5f" stroke-width="0.18">12</text>
<text x="459.06" y="456.20" font-size="6" text-anchor="middle" fill="#c43a5f" stroke="#c43a5f" stroke-width="0.18">11</text>
<text x="475.14" y="456.20" font-size="6" text-anchor="middle" fill="#c43a5f" stroke="#c43a5f" stroke-width="0.18">9</text>
<text x="491.22" y="456.20" font-size="6" text-anchor="middle" fill="#c43a5f" stroke="#c43a5f" stroke-width="0.18">5</text>
<text x="507.30" y="456.20" font-size="6" text-anchor="middle" fill="#c43a5f" stroke="#c43a5f" stroke-width="0.18">4</text>
<text x="467.40" y="482.70" font-size="7.8" text-anchor="middle" fill="#222" stroke="#222" stroke-width="0.3" textLength="57.3" lengthAdjust="spacingAndGlyphs">Survival time (months)</text>
<line x1="37.20" y1="509.60" x2="37.20" y2="602.10" stroke="#222" stroke-width="1.2"/>
<line x1="36.70" y1="602.10" x2="147.40" y2="602.10" stroke="#222" stroke-width="1.2"/>
<line x1="33.70" y1="597.90" x2="37.20" y2="597.90" stroke="#222" stroke-width="1.2"/>
<text x="30.70" y="600.05" font-size="6" text-anchor="end" fill="#333" stroke="#333" stroke-width="0.18">0.00</text>
<line x1="33.70" y1="576.73" x2="37.20" y2="576.73" stroke="#222" stroke-width="1.2"/>
<text x="30.70" y="578.88" font-size="6" text-anchor="end" fill="#333" stroke="#333" stroke-width="0.18">0.25</text>
<line x1="33.70" y1="555.55" x2="37.20" y2="555.55" stroke="#222" stroke-width="1.2"/>
<text x="30.70" y="557.70" font-size="6" text-anchor="end" fill="#333" stroke="#333" stroke-width="0.18">0.50</text>
<line x1="33.70" y1="534.38" x2="37.20" y2="534.38" stroke="#222" stroke-width="1.2"/>
<text x="30.70" y="536.52" font-size="6" text-anchor="end" fill="#333" stroke="#333" stroke-width="0.18">0.75</text>
<line x1="43.50" y1="602.10" x2="43.50" y2="605.10" stroke="#222" stroke-width="1.2"/>
<text x="43.50" y="613.30" font-size="6" text-anchor="middle" fill="#333" stroke="#333" stroke-width="0.18">0</text>
<line x1="63.66" y1="602.10" x2="63.66" y2="605.10" stroke="#222" stroke-width="1.2"/>
<text x="63.66" y="613.30" font-size="6" text-anchor="middle" fill="#333" stroke="#333" stroke-width="0.18">12</text>
<line x1="83.82" y1="602.10" x2="83.82" y2="605.10" stroke="#222" stroke-width="1.2"/>
<text x="83.82" y="613.30" font-size="6" text-anchor="middle" fill="#333" stroke="#333" stroke-width="0.18">24</text>
<line x1="103.98" y1="602.10" x2="103.98" y2="605.10" stroke="#222" stroke-width="1.2"/>
<text x="103.98" y="613.30" font-size="6" text-anchor="middle" fill="#333" stroke="#333" stroke-width="0.18">36</text>
<line x1="124.14" y1="602.10" x2="124.14" y2="605.10" stroke="#222" stroke-width="1.2"/>
<text x="124.14" y="613.30" font-size="6" text-anchor="middle" fill="#333" stroke="#333" stroke-width="0.18">48</text>
<line x1="144.30" y1="602.10" x2="144.30" y2="605.10" stroke="#222" stroke-width="1.2"/>
<text x="144.30" y="613.30" font-size="6" text-anchor="middle" fill="#333" stroke="#333" stroke-width="0.18">60</text>
<text x="13.90" y="555.70" font-size="7.8" text-anchor="middle" fill="#222" stroke="#222" stroke-width="0.28" textLength="62.0" lengthAdjust="spacingAndGlyphs" transform="rotate(-90 13.90 555.70)">Progression free survival</text>
<polyline points="44.30,513.50 53.40,513.50 53.40,524.20 71.90,524.20 71.90,534.40 79.40,534.40 79.40,545.20 135.50,545.20 135.50,557.90 148.00,557.90" fill="none" stroke="#3a5e92" stroke-width="1.15" stroke-linejoin="miter"/>
<path d="M119.50 544.10V546.70" stroke="#3a5e92" stroke-width="0.7"/>
<polyline points="44.30,513.50 53.60,513.50 53.60,526.80 55.30,526.80 55.30,541.20 69.30,541.20 69.30,560.30 105.70,560.30 105.70,579.20 148.00,579.20" fill="none" stroke="#5aa85a" stroke-width="1.15" stroke-linejoin="miter"/>
<path d="M60.00 539.90V542.50" stroke="#5aa85a" stroke-width="0.7"/>
<polyline points="44.00,515.60 44.08,515.60 44.08,517.22 44.16,517.22 44.16,518.84 44.24,518.84 44.24,520.46 44.32,520.46 44.32,522.08 44.40,522.08 44.40,523.70 47.00,523.70 47.00,525.50 47.65,525.50 47.65,527.25 48.30,527.25 48.30,529.00 48.48,529.00 48.48,530.74 48.66,530.74 48.66,532.48 48.84,532.48 48.84,534.22 49.02,534.22 49.02,535.96 49.20,535.96 49.20,537.70 49.53,537.70 49.53,539.45 49.85,539.45 49.85,541.20 50.17,541.20 50.17,542.95 50.50,542.95 50.50,544.70 52.70,544.70 52.70,546.50 53.60,546.50 53.60,560.50 58.80,560.50 58.80,567.30 66.60,567.30 66.60,573.20 101.30,573.20 101.30,579.20 114.80,579.20 114.80,585.40 148.00,585.40" fill="none" stroke="#f0a445" stroke-width="1.15" stroke-linejoin="miter"/>
<polyline points="44.40,514.10 44.40,520.20 48.50,520.20 48.50,526.80 50.50,526.80 50.50,527.20 50.65,527.20 50.65,528.95 50.80,528.95 50.80,530.70 50.95,530.70 50.95,532.45 51.10,532.45 51.10,534.20 51.25,534.20 51.25,535.95 51.40,535.95 51.40,537.70 53.60,537.70 53.60,538.20 53.87,538.20 53.87,539.80 54.13,539.80 54.13,541.40 54.40,541.40 54.40,543.00 56.20,543.00 56.20,544.70 56.40,544.70 56.40,546.45 56.60,546.45 56.60,548.20 63.20,548.20 63.20,553.50 63.63,553.50 63.63,555.23 64.07,555.23 64.07,556.97 64.50,556.97 64.50,558.70 64.70,558.70 64.70,560.45 64.90,560.45 64.90,562.20 67.10,562.20 67.10,563.10 67.55,563.10 67.55,564.65 68.00,564.65 68.00,566.20 70.60,566.20 70.60,566.60 70.75,566.60 70.75,568.15 70.90,568.15 70.90,569.70 71.05,569.70 71.05,571.25 71.20,571.25 71.20,572.80 87.70,572.80 87.70,576.50 88.55,576.50 88.55,578.00 89.40,578.00 89.40,579.50 89.70,579.50 89.70,580.93 90.00,580.93 90.00,582.37 90.30,582.37 90.30,583.80 107.30,583.80 107.30,587.30 125.80,587.30 125.80,592.40 148.50,592.40" fill="none" stroke="#c2294c" stroke-width="1.15" stroke-linejoin="miter"/>
<path d="M124.00 586.00V588.60" stroke="#c2294c" stroke-width="0.7"/>
<text x="48.20" y="583.40" font-size="6.4" fill="#333" stroke="#333" stroke-width="0.18" textLength="23.6" lengthAdjust="spacingAndGlyphs"><tspan font-style="italic">P</tspan> = .033</text>
<line x1="37.20" y1="619.50" x2="37.20" y2="655.60" stroke="#222" stroke-width="1.2"/>
<line x1="36.70" y1="655.60" x2="147.40" y2="655.60" stroke="#222" stroke-width="1.2"/>
<line x1="43.50" y1="655.60" x2="43.50" y2="658.30" stroke="#222" stroke-width="1.2"/>
<text x="43.50" y="665.70" font-size="6" text-anchor="middle" fill="#333" stroke="#333" stroke-width="0.18">0</text>
<line x1="63.66" y1="655.60" x2="63.66" y2="658.30" stroke="#222" stroke-width="1.2"/>
<text x="63.66" y="665.70" font-size="6" text-anchor="middle" fill="#333" stroke="#333" stroke-width="0.18">12</text>
<line x1="83.82" y1="655.60" x2="83.82" y2="658.30" stroke="#222" stroke-width="1.2"/>
<text x="83.82" y="665.70" font-size="6" text-anchor="middle" fill="#333" stroke="#333" stroke-width="0.18">24</text>
<line x1="103.98" y1="655.60" x2="103.98" y2="658.30" stroke="#222" stroke-width="1.2"/>
<text x="103.98" y="665.70" font-size="6" text-anchor="middle" fill="#333" stroke="#333" stroke-width="0.18">36</text>
<line x1="124.14" y1="655.60" x2="124.14" y2="658.30" stroke="#222" stroke-width="1.2"/>
<text x="124.14" y="665.70" font-size="6" text-anchor="middle" fill="#333" stroke="#333" stroke-width="0.18">48</text>
<line x1="144.30" y1="655.60" x2="144.30" y2="658.30" stroke="#222" stroke-width="1.2"/>
<text x="144.30" y="665.70" font-size="6" text-anchor="middle" fill="#333" stroke="#333" stroke-width="0.18">60</text>
<line x1="24.10" y1="621.50" x2="34.10" y2="621.50" stroke="#2c4a7c" stroke-width="1"/>
<text x="43.50" y="623.70" font-size="6" text-anchor="middle" fill="#4a6aa8" stroke="#4a6aa8" stroke-width="0.18">8</text>
<text x="63.66" y="623.70" font-size="6" text-anchor="middle" fill="#4a6aa8" stroke="#4a6aa8" stroke-width="0.18">7</text>
<text x="83.82" y="623.70" font-size="6" text-anchor="middle" fill="#4a6aa8" stroke="#4a6aa8" stroke-width="0.18">5</text>
<text x="103.98" y="623.70" font-size="6" text-anchor="middle" fill="#4a6aa8" stroke="#4a6aa8" stroke-width="0.18">5</text>
<text x="124.14" y="623.70" font-size="6" text-anchor="middle" fill="#4a6aa8" stroke="#4a6aa8" stroke-width="0.18">4</text>
<text x="144.30" y="623.70" font-size="6" text-anchor="middle" fill="#4a6aa8" stroke="#4a6aa8" stroke-width="0.18">3</text>
<line x1="24.10" y1="631.35" x2="34.10" y2="631.35" stroke="#4a9a50" stroke-width="1"/>
<text x="43.50" y="633.55" font-size="6" text-anchor="middle" fill="#7cb67c" stroke="#7cb67c" stroke-width="0.18">6</text>
<text x="63.66" y="633.55" font-size="6" text-anchor="middle" fill="#7cb67c" stroke="#7cb67c" stroke-width="0.18">3</text>
<text x="83.82" y="633.55" font-size="6" text-anchor="middle" fill="#7cb67c" stroke="#7cb67c" stroke-width="0.18">2</text>
<text x="103.98" y="633.55" font-size="6" text-anchor="middle" fill="#7cb67c" stroke="#7cb67c" stroke-width="0.18">2</text>
<text x="124.14" y="633.55" font-size="6" text-anchor="middle" fill="#7cb67c" stroke="#7cb67c" stroke-width="0.18">1</text>
<text x="144.30" y="633.55" font-size="6" text-anchor="middle" fill="#7cb67c" stroke="#7cb67c" stroke-width="0.18">1</text>
<line x1="24.10" y1="641.20" x2="34.10" y2="641.20" stroke="#b02a44" stroke-width="1"/>
<text x="43.50" y="643.40" font-size="6" text-anchor="middle" fill="#c8304f" stroke="#c8304f" stroke-width="0.18">26</text>
<text x="63.66" y="643.40" font-size="6" text-anchor="middle" fill="#c8304f" stroke="#c8304f" stroke-width="0.18">12</text>
<text x="83.82" y="643.40" font-size="6" text-anchor="middle" fill="#c8304f" stroke="#c8304f" stroke-width="0.18">7</text>
<text x="103.98" y="643.40" font-size="6" text-anchor="middle" fill="#c8304f" stroke="#c8304f" stroke-width="0.18">4</text>
<text x="124.14" y="643.40" font-size="6" text-anchor="middle" fill="#c8304f" stroke="#c8304f" stroke-width="0.18">3</text>
<text x="144.30" y="643.40" font-size="6" text-anchor="middle" fill="#c8304f" stroke="#c8304f" stroke-width="0.18">1</text>
<line x1="24.10" y1="651.05" x2="34.10" y2="651.05" stroke="#e0a850" stroke-width="1"/>
<text x="43.50" y="653.25" font-size="6" text-anchor="middle" fill="#f2bd78" stroke="#f2bd78" stroke-width="0.18">10</text>
<text x="63.66" y="653.25" font-size="6" text-anchor="middle" fill="#f2bd78" stroke="#f2bd78" stroke-width="0.18">5</text>
<text x="83.82" y="653.25" font-size="6" text-anchor="middle" fill="#f2bd78" stroke="#f2bd78" stroke-width="0.18">4</text>
<text x="103.98" y="653.25" font-size="6" text-anchor="middle" fill="#f2bd78" stroke="#f2bd78" stroke-width="0.18">3</text>
<text x="124.14" y="653.25" font-size="6" text-anchor="middle" fill="#f2bd78" stroke="#f2bd78" stroke-width="0.18">1</text>
<text x="144.30" y="653.25" font-size="6" text-anchor="middle" fill="#f2bd78" stroke="#f2bd78" stroke-width="0.18">1</text>
<text x="92.25" y="677.00" font-size="7.8" text-anchor="middle" fill="#222" stroke="#222" stroke-width="0.3" textLength="58.5" lengthAdjust="spacingAndGlyphs">Survival time (months)</text>
<line x1="157.70" y1="512.40" x2="165.20" y2="512.40" stroke="#2c4a7c" stroke-width="1.1"/>
<line x1="161.40" y1="511.20" x2="161.40" y2="513.60" stroke="#2c4a7c" stroke-width="0.6"/>
<text x="167.50" y="514.70" font-size="6.6" text-anchor="start" fill="#333" stroke="#333" stroke-width="0.18" textLength="43.5" lengthAdjust="spacingAndGlyphs">CD3+/CD138−</text>
<line x1="157.70" y1="521.00" x2="165.20" y2="521.00" stroke="#4a9a50" stroke-width="1.1"/>
<line x1="161.40" y1="519.80" x2="161.40" y2="522.20" stroke="#4a9a50" stroke-width="0.6"/>
<text x="167.50" y="523.30" font-size="6.6" text-anchor="start" fill="#333" stroke="#333" stroke-width="0.18" textLength="43.5" lengthAdjust="spacingAndGlyphs">CD3+/CD138+</text>
<line x1="157.70" y1="529.90" x2="165.20" y2="529.90" stroke="#b02a44" stroke-width="1.1"/>
<line x1="161.40" y1="528.70" x2="161.40" y2="531.10" stroke="#b02a44" stroke-width="0.6"/>
<text x="167.50" y="532.20" font-size="6.6" text-anchor="start" fill="#333" stroke="#333" stroke-width="0.18" textLength="43.5" lengthAdjust="spacingAndGlyphs">CD3−/CD138−</text>
<line x1="157.70" y1="538.10" x2="165.20" y2="538.10" stroke="#e0a850" stroke-width="1.1"/>
<line x1="161.40" y1="536.90" x2="161.40" y2="539.30" stroke="#e0a850" stroke-width="0.6"/>
<text x="167.50" y="540.40" font-size="6.6" text-anchor="start" fill="#333" stroke="#333" stroke-width="0.18" textLength="43.5" lengthAdjust="spacingAndGlyphs">CD3−/CD138+</text>
<text x="167.20" y="551.0" font-size="6.4" fill="#333" stroke="#333" stroke-width="0.18" textLength="52.4" lengthAdjust="spacingAndGlyphs">Adjusted <tspan font-style="italic">P</tspan>-value by</text>
<text x="156.60" y="560.70" font-size="6.4" text-anchor="start" fill="#333" stroke="#333" stroke-width="0.18" textLength="78" lengthAdjust="spacingAndGlyphs" xml:space="preserve">Benjamini-Hochberg  method</text>
<rect x="156.70" y="565.50" width="18.10" height="22.80" fill="#fff" stroke="#b8c8b0" stroke-width="0.6"/>
<rect x="175.10" y="565.20" width="18.20" height="23.40" fill="#8d97c3"/>
<text x="176.00" y="576.30" font-size="5.0" text-anchor="start" fill="#2e3f86" stroke="#2e3f86" stroke-width="0.06" textLength="14.2" lengthAdjust="spacingAndGlyphs">CD3+/</text>
<text x="176.00" y="581.10" font-size="4.8" text-anchor="start" fill="#2e3f86" stroke="#2e3f86" stroke-width="0.06" textLength="16.4" lengthAdjust="spacingAndGlyphs">CD138−</text>
<rect x="193.30" y="565.20" width="18.70" height="23.40" fill="#a7d592"/>
<text x="194.20" y="576.30" font-size="5.0" text-anchor="start" fill="#2b6a2b" stroke="#2b6a2b" stroke-width="0.06" textLength="14.2" lengthAdjust="spacingAndGlyphs">CD3+/</text>
<text x="194.20" y="581.10" font-size="4.8" text-anchor="start" fill="#2b6a2b" stroke="#2b6a2b" stroke-width="0.06" textLength="16.4" lengthAdjust="spacingAndGlyphs">CD138+</text>
<rect x="212.00" y="565.20" width="19.30" height="23.40" fill="#ea8a7e"/>
<text x="212.90" y="576.30" font-size="5.0" text-anchor="start" fill="#a3202a" stroke="#a3202a" stroke-width="0.06" textLength="14.2" lengthAdjust="spacingAndGlyphs">CD3−/</text>
<text x="212.90" y="581.10" font-size="4.8" text-anchor="start" fill="#a3202a" stroke="#a3202a" stroke-width="0.06" textLength="16.4" lengthAdjust="spacingAndGlyphs">CD138−</text>
<rect x="156.40" y="588.60" width="18.70" height="24.70" fill="#a7d592"/>
<text x="157.60" y="600.75" font-size="5.0" text-anchor="start" fill="#2b6a2b" stroke="#2b6a2b" stroke-width="0.06" textLength="14.2" lengthAdjust="spacingAndGlyphs">CD3+/</text>
<text x="157.60" y="605.65" font-size="4.8" text-anchor="start" fill="#2b6a2b" stroke="#2b6a2b" stroke-width="0.06" textLength="16.4" lengthAdjust="spacingAndGlyphs">CD138+</text>
<text x="184.20" y="602.75" font-size="4.7" text-anchor="middle" fill="#555" stroke="#555" stroke-width="0.04">0.361</text>
<text x="202.65" y="602.75" font-size="4.7" text-anchor="middle" fill="#555" stroke="#555" stroke-width="0.04">NA</text>
<text x="221.65" y="602.75" font-size="4.7" text-anchor="middle" fill="#555" stroke="#555" stroke-width="0.04">NA</text>
<rect x="156.40" y="613.30" width="18.70" height="24.90" fill="#ea8a7e"/>
<text x="157.60" y="625.55" font-size="5.0" text-anchor="start" fill="#a3202a" stroke="#a3202a" stroke-width="0.06" textLength="14.2" lengthAdjust="spacingAndGlyphs">CD3−/</text>
<text x="157.60" y="630.45" font-size="4.8" text-anchor="start" fill="#a3202a" stroke="#a3202a" stroke-width="0.06" textLength="16.4" lengthAdjust="spacingAndGlyphs">CD138−</text>
<text x="184.20" y="627.55" font-size="4.7" text-anchor="middle" fill="#555" stroke="#555" stroke-width="0.04">0.030</text>
<text x="202.65" y="627.55" font-size="4.7" text-anchor="middle" fill="#555" stroke="#555" stroke-width="0.04">0.400</text>
<text x="221.65" y="627.55" font-size="4.7" text-anchor="middle" fill="#555" stroke="#555" stroke-width="0.04">NA</text>
<rect x="156.40" y="638.20" width="18.70" height="25.60" fill="#f8c98c"/>
<text x="157.60" y="650.80" font-size="5.0" text-anchor="start" fill="#7a4a10" stroke="#7a4a10" stroke-width="0.06" textLength="14.2" lengthAdjust="spacingAndGlyphs">CD3−/</text>
<text x="157.60" y="655.70" font-size="4.8" text-anchor="start" fill="#7a4a10" stroke="#7a4a10" stroke-width="0.06" textLength="16.4" lengthAdjust="spacingAndGlyphs">CD138+</text>
<text x="184.20" y="652.80" font-size="4.7" text-anchor="middle" fill="#555" stroke="#555" stroke-width="0.04">0.030</text>
<text x="202.65" y="652.80" font-size="4.7" text-anchor="middle" fill="#555" stroke="#555" stroke-width="0.04">0.361</text>
<text x="221.65" y="652.80" font-size="4.7" text-anchor="middle" fill="#555" stroke="#555" stroke-width="0.04">0.715</text>
<line x1="294.20" y1="510.60" x2="294.20" y2="602.90" stroke="#222" stroke-width="1.2"/>
<line x1="293.70" y1="602.90" x2="404.50" y2="602.90" stroke="#222" stroke-width="1.2"/>
<line x1="290.70" y1="598.80" x2="294.20" y2="598.80" stroke="#222" stroke-width="1.2"/>
<text x="287.70" y="600.95" font-size="6" text-anchor="end" fill="#333" stroke="#333" stroke-width="0.18">0.00</text>
<line x1="290.70" y1="577.72" x2="294.20" y2="577.72" stroke="#222" stroke-width="1.2"/>
<text x="287.70" y="579.87" font-size="6" text-anchor="end" fill="#333" stroke="#333" stroke-width="0.18">0.25</text>
<line x1="290.70" y1="556.65" x2="294.20" y2="556.65" stroke="#222" stroke-width="1.2"/>
<text x="287.70" y="558.80" font-size="6" text-anchor="end" fill="#333" stroke="#333" stroke-width="0.18">0.50</text>
<line x1="290.70" y1="535.58" x2="294.20" y2="535.58" stroke="#222" stroke-width="1.2"/>
<text x="287.70" y="537.73" font-size="6" text-anchor="end" fill="#333" stroke="#333" stroke-width="0.18">0.75</text>
<line x1="290.70" y1="514.50" x2="294.20" y2="514.50" stroke="#222" stroke-width="1.2"/>
<text x="287.70" y="516.65" font-size="6" text-anchor="end" fill="#333" stroke="#333" stroke-width="0.18">1.00</text>
<line x1="300.60" y1="602.90" x2="300.60" y2="605.90" stroke="#222" stroke-width="1.2"/>
<text x="300.60" y="613.80" font-size="6" text-anchor="middle" fill="#333" stroke="#333" stroke-width="0.18">0</text>
<line x1="320.76" y1="602.90" x2="320.76" y2="605.90" stroke="#222" stroke-width="1.2"/>
<text x="320.76" y="613.80" font-size="6" text-anchor="middle" fill="#333" stroke="#333" stroke-width="0.18">12</text>
<line x1="340.92" y1="602.90" x2="340.92" y2="605.90" stroke="#222" stroke-width="1.2"/>
<text x="340.92" y="613.80" font-size="6" text-anchor="middle" fill="#333" stroke="#333" stroke-width="0.18">24</text>
<line x1="361.08" y1="602.90" x2="361.08" y2="605.90" stroke="#222" stroke-width="1.2"/>
<text x="361.08" y="613.80" font-size="6" text-anchor="middle" fill="#333" stroke="#333" stroke-width="0.18">36</text>
<line x1="381.24" y1="602.90" x2="381.24" y2="605.90" stroke="#222" stroke-width="1.2"/>
<text x="381.24" y="613.80" font-size="6" text-anchor="middle" fill="#333" stroke="#333" stroke-width="0.18">48</text>
<line x1="401.40" y1="602.90" x2="401.40" y2="605.90" stroke="#222" stroke-width="1.2"/>
<text x="401.40" y="613.80" font-size="6" text-anchor="middle" fill="#333" stroke="#333" stroke-width="0.18">60</text>
<text x="270.00" y="556.60" font-size="7.8" text-anchor="middle" fill="#222" stroke="#222" stroke-width="0.28" textLength="39.4" lengthAdjust="spacingAndGlyphs" transform="rotate(-90 270.00 556.60)">Overall survival</text>
<polyline points="301.30,514.50 347.50,514.50 347.50,525.10 405.00,525.10" fill="none" stroke="#3a5e92" stroke-width="1.15" stroke-linejoin="miter"/>
<path d="M376.40 523.80V526.40" stroke="#3a5e92" stroke-width="0.7"/>
<path d="M403.00 523.80V526.40" stroke="#3a5e92" stroke-width="0.7"/>
<polyline points="301.30,514.50 316.20,514.50 316.20,528.30 376.40,528.30 376.40,546.30 405.00,546.30" fill="none" stroke="#5aa85a" stroke-width="1.15" stroke-linejoin="miter"/>
<path d="M318.00 527.00V529.60" stroke="#5aa85a" stroke-width="0.7"/>
<polyline points="301.30,516.60 301.85,516.60 301.85,518.20 302.40,518.20 302.40,519.80 303.10,519.80 303.10,521.57 303.80,521.57 303.80,523.33 304.50,523.33 304.50,525.10 305.20,525.10 305.20,526.87 305.90,526.87 305.90,528.63 306.60,528.63 306.60,530.40 306.97,530.40 306.97,532.17 307.33,532.17 307.33,533.93 307.70,533.93 307.70,535.70 308.75,535.70 308.75,537.25 309.80,537.25 309.80,538.80 310.50,538.80 310.50,540.57 311.20,540.57 311.20,542.33 311.90,542.33 311.90,544.10 315.10,544.10 315.10,546.30 315.80,546.30 315.80,548.03 316.50,548.03 316.50,549.77 317.20,549.77 317.20,551.50 322.50,551.50 322.50,552.60 323.55,552.60 323.55,554.20 324.60,554.20 324.60,555.80 325.70,555.80 325.70,558.30 361.60,558.30 361.97,558.30 361.97,559.93 362.33,559.93 362.33,561.57 362.70,561.57 362.70,563.20 363.07,563.20 363.07,564.97 363.43,564.97 363.43,566.73 363.80,566.73 363.80,568.50 364.13,568.50 364.13,570.47 364.47,570.47 364.47,572.43 364.80,572.43 364.80,574.40 405.00,574.40" fill="none" stroke="#f0a445" stroke-width="1.15" stroke-linejoin="miter"/>
<path d="M340.00 557.00V559.60" stroke="#f0a445" stroke-width="0.7"/>
<path d="M373.00 573.10V575.70" stroke="#f0a445" stroke-width="0.7"/>
<path d="M387.00 573.10V575.70" stroke="#f0a445" stroke-width="0.7"/>
<polyline points="301.30,514.50 306.60,514.50 307.70,514.50 307.70,519.80 308.07,519.80 308.07,521.57 308.43,521.57 308.43,523.33 308.80,523.33 308.80,525.10 310.90,525.10 310.90,526.20 311.40,526.20 311.40,527.75 311.90,527.75 311.90,529.30 312.17,529.30 312.17,530.90 312.45,530.90 312.45,532.50 312.73,532.50 312.73,534.10 313.00,534.10 313.00,535.70 323.60,535.70 324.10,535.70 324.10,537.25 324.60,537.25 324.60,538.80 325.65,538.80 325.65,540.40 326.70,540.40 326.70,542.00 327.25,542.00 327.25,543.60 327.80,543.60 327.80,545.20 328.85,545.20 328.85,547.30 329.90,547.30 329.90,549.40 330.27,549.40 330.27,550.83 330.63,550.83 330.63,552.27 331.00,552.27 331.00,553.70 359.50,553.70 360.05,553.70 360.05,555.25 360.60,555.25 360.60,556.80 361.67,556.80 361.67,558.23 362.73,558.23 362.73,559.67 363.80,559.67 363.80,561.10 372.20,561.10 372.75,561.10 372.75,562.65 373.30,562.65 373.30,564.20 375.40,564.20 375.40,566.40 376.40,566.40 376.40,568.50 405.00,568.50" fill="none" stroke="#c2294c" stroke-width="1.15" stroke-linejoin="miter"/>
<path d="M340.00 552.40V555.00" stroke="#c2294c" stroke-width="0.7"/>
<path d="M382.80 567.20V569.80" stroke="#c2294c" stroke-width="0.7"/>
<path d="M389.00 567.20V569.80" stroke="#c2294c" stroke-width="0.7"/>
<path d="M400.80 567.20V569.80" stroke="#c2294c" stroke-width="0.7"/>
<text x="305.20" y="584.40" font-size="6.4" fill="#333" stroke="#333" stroke-width="0.18" textLength="23.2" lengthAdjust="spacingAndGlyphs"><tspan font-style="italic">P</tspan> = .041</text>
<line x1="294.20" y1="620.30" x2="294.20" y2="656.40" stroke="#222" stroke-width="1.2"/>
<line x1="293.70" y1="656.40" x2="404.50" y2="656.40" stroke="#222" stroke-width="1.2"/>
<line x1="300.60" y1="656.40" x2="300.60" y2="659.10" stroke="#222" stroke-width="1.2"/>
<text x="300.60" y="666.50" font-size="6" text-anchor="middle" fill="#333" stroke="#333" stroke-width="0.18">0</text>
<line x1="320.76" y1="656.40" x2="320.76" y2="659.10" stroke="#222" stroke-width="1.2"/>
<text x="320.76" y="666.50" font-size="6" text-anchor="middle" fill="#333" stroke="#333" stroke-width="0.18">12</text>
<line x1="340.92" y1="656.40" x2="340.92" y2="659.10" stroke="#222" stroke-width="1.2"/>
<text x="340.92" y="666.50" font-size="6" text-anchor="middle" fill="#333" stroke="#333" stroke-width="0.18">24</text>
<line x1="361.08" y1="656.40" x2="361.08" y2="659.10" stroke="#222" stroke-width="1.2"/>
<text x="361.08" y="666.50" font-size="6" text-anchor="middle" fill="#333" stroke="#333" stroke-width="0.18">36</text>
<line x1="381.24" y1="656.40" x2="381.24" y2="659.10" stroke="#222" stroke-width="1.2"/>
<text x="381.24" y="666.50" font-size="6" text-anchor="middle" fill="#333" stroke="#333" stroke-width="0.18">48</text>
<line x1="401.40" y1="656.40" x2="401.40" y2="659.10" stroke="#222" stroke-width="1.2"/>
<text x="401.40" y="666.50" font-size="6" text-anchor="middle" fill="#333" stroke="#333" stroke-width="0.18">60</text>
<line x1="281.10" y1="622.30" x2="291.10" y2="622.30" stroke="#2c4a7c" stroke-width="1"/>
<text x="300.60" y="624.50" font-size="6" text-anchor="middle" fill="#4a6aa8" stroke="#4a6aa8" stroke-width="0.18">8</text>
<text x="320.76" y="624.50" font-size="6" text-anchor="middle" fill="#4a6aa8" stroke="#4a6aa8" stroke-width="0.18">8</text>
<text x="340.92" y="624.50" font-size="6" text-anchor="middle" fill="#4a6aa8" stroke="#4a6aa8" stroke-width="0.18">8</text>
<text x="361.08" y="624.50" font-size="6" text-anchor="middle" fill="#4a6aa8" stroke="#4a6aa8" stroke-width="0.18">7</text>
<text x="381.24" y="624.50" font-size="6" text-anchor="middle" fill="#4a6aa8" stroke="#4a6aa8" stroke-width="0.18">6</text>
<text x="401.40" y="624.50" font-size="6" text-anchor="middle" fill="#4a6aa8" stroke="#4a6aa8" stroke-width="0.18">6</text>
<line x1="281.10" y1="632.15" x2="291.10" y2="632.15" stroke="#4a9a50" stroke-width="1"/>
<text x="300.60" y="634.35" font-size="6" text-anchor="middle" fill="#7cb67c" stroke="#7cb67c" stroke-width="0.18">6</text>
<text x="320.76" y="634.35" font-size="6" text-anchor="middle" fill="#7cb67c" stroke="#7cb67c" stroke-width="0.18">4</text>
<text x="340.92" y="634.35" font-size="6" text-anchor="middle" fill="#7cb67c" stroke="#7cb67c" stroke-width="0.18">4</text>
<text x="361.08" y="634.35" font-size="6" text-anchor="middle" fill="#7cb67c" stroke="#7cb67c" stroke-width="0.18">4</text>
<text x="381.24" y="634.35" font-size="6" text-anchor="middle" fill="#7cb67c" stroke="#7cb67c" stroke-width="0.18">3</text>
<text x="401.40" y="634.35" font-size="6" text-anchor="middle" fill="#7cb67c" stroke="#7cb67c" stroke-width="0.18">3</text>
<line x1="281.10" y1="642.00" x2="291.10" y2="642.00" stroke="#b02a44" stroke-width="1"/>
<text x="300.60" y="644.20" font-size="6" text-anchor="middle" fill="#c8304f" stroke="#c8304f" stroke-width="0.18">26</text>
<text x="320.76" y="644.20" font-size="6" text-anchor="middle" fill="#c8304f" stroke="#c8304f" stroke-width="0.18">18</text>
<text x="340.92" y="644.20" font-size="6" text-anchor="middle" fill="#c8304f" stroke="#c8304f" stroke-width="0.18">12</text>
<text x="361.08" y="644.20" font-size="6" text-anchor="middle" fill="#c8304f" stroke="#c8304f" stroke-width="0.18">11</text>
<text x="381.24" y="644.20" font-size="6" text-anchor="middle" fill="#c8304f" stroke="#c8304f" stroke-width="0.18">8</text>
<text x="401.40" y="644.20" font-size="6" text-anchor="middle" fill="#c8304f" stroke="#c8304f" stroke-width="0.18">5</text>
<line x1="281.10" y1="651.85" x2="291.10" y2="651.85" stroke="#e0a850" stroke-width="1"/>
<text x="300.60" y="654.05" font-size="6" text-anchor="middle" fill="#f2bd78" stroke="#f2bd78" stroke-width="0.18">10</text>
<text x="320.76" y="654.05" font-size="6" text-anchor="middle" fill="#f2bd78" stroke="#f2bd78" stroke-width="0.18">8</text>
<text x="340.92" y="654.05" font-size="6" text-anchor="middle" fill="#f2bd78" stroke="#f2bd78" stroke-width="0.18">7</text>
<text x="361.08" y="654.05" font-size="6" text-anchor="middle" fill="#f2bd78" stroke="#f2bd78" stroke-width="0.18">5</text>
<text x="381.24" y="654.05" font-size="6" text-anchor="middle" fill="#f2bd78" stroke="#f2bd78" stroke-width="0.18">2</text>
<text x="401.40" y="654.05" font-size="6" text-anchor="middle" fill="#f2bd78" stroke="#f2bd78" stroke-width="0.18">1</text>
<text x="349.25" y="677.80" font-size="7.8" text-anchor="middle" fill="#222" stroke="#222" stroke-width="0.3" textLength="58.5" lengthAdjust="spacingAndGlyphs">Survival time (months)</text>
<line x1="416.50" y1="512.40" x2="424.00" y2="512.40" stroke="#2c4a7c" stroke-width="1.1"/>
<line x1="420.20" y1="511.20" x2="420.20" y2="513.60" stroke="#2c4a7c" stroke-width="0.6"/>
<text x="426.30" y="514.70" font-size="6.6" text-anchor="start" fill="#333" stroke="#333" stroke-width="0.18" textLength="43.5" lengthAdjust="spacingAndGlyphs">CD3+/CD138−</text>
<line x1="416.50" y1="521.00" x2="424.00" y2="521.00" stroke="#4a9a50" stroke-width="1.1"/>
<line x1="420.20" y1="519.80" x2="420.20" y2="522.20" stroke="#4a9a50" stroke-width="0.6"/>
<text x="426.30" y="523.30" font-size="6.6" text-anchor="start" fill="#333" stroke="#333" stroke-width="0.18" textLength="43.5" lengthAdjust="spacingAndGlyphs">CD3+/CD138+</text>
<line x1="416.50" y1="529.90" x2="424.00" y2="529.90" stroke="#b02a44" stroke-width="1.1"/>
<line x1="420.20" y1="528.70" x2="420.20" y2="531.10" stroke="#b02a44" stroke-width="0.6"/>
<text x="426.30" y="532.20" font-size="6.6" text-anchor="start" fill="#333" stroke="#333" stroke-width="0.18" textLength="43.5" lengthAdjust="spacingAndGlyphs">CD3−/CD138−</text>
<line x1="416.50" y1="538.10" x2="424.00" y2="538.10" stroke="#e0a850" stroke-width="1.1"/>
<line x1="420.20" y1="536.90" x2="420.20" y2="539.30" stroke="#e0a850" stroke-width="0.6"/>
<text x="426.30" y="540.40" font-size="6.6" text-anchor="start" fill="#333" stroke="#333" stroke-width="0.18" textLength="43.5" lengthAdjust="spacingAndGlyphs">CD3−/CD138+</text>
<text x="426.00" y="551.0" font-size="6.4" fill="#333" stroke="#333" stroke-width="0.18" textLength="52.4" lengthAdjust="spacingAndGlyphs">Adjusted <tspan font-style="italic">P</tspan>-value by</text>
<text x="415.40" y="560.70" font-size="6.4" text-anchor="start" fill="#333" stroke="#333" stroke-width="0.18" textLength="78" lengthAdjust="spacingAndGlyphs" xml:space="preserve">Benjamini-Hochberg  method</text>
<rect x="415.50" y="565.50" width="17.90" height="22.80" fill="#fff" stroke="#b8c8b0" stroke-width="0.6"/>
<rect x="433.70" y="565.20" width="18.30" height="23.40" fill="#8d97c3"/>
<text x="434.60" y="576.30" font-size="5.0" text-anchor="start" fill="#2e3f86" stroke="#2e3f86" stroke-width="0.06" textLength="14.2" lengthAdjust="spacingAndGlyphs">CD3+/</text>
<text x="434.60" y="581.10" font-size="4.8" text-anchor="start" fill="#2e3f86" stroke="#2e3f86" stroke-width="0.06" textLength="16.4" lengthAdjust="spacingAndGlyphs">CD138−</text>
<rect x="452.00" y="565.20" width="18.60" height="23.40" fill="#a7d592"/>
<text x="452.90" y="576.30" font-size="5.0" text-anchor="start" fill="#2b6a2b" stroke="#2b6a2b" stroke-width="0.06" textLength="14.2" lengthAdjust="spacingAndGlyphs">CD3+/</text>
<text x="452.90" y="581.10" font-size="4.8" text-anchor="start" fill="#2b6a2b" stroke="#2b6a2b" stroke-width="0.06" textLength="16.4" lengthAdjust="spacingAndGlyphs">CD138+</text>
<rect x="470.60" y="565.20" width="19.40" height="23.40" fill="#ea8a7e"/>
<text x="471.50" y="576.30" font-size="5.0" text-anchor="start" fill="#a3202a" stroke="#a3202a" stroke-width="0.06" textLength="14.2" lengthAdjust="spacingAndGlyphs">CD3−/</text>
<text x="471.50" y="581.10" font-size="4.8" text-anchor="start" fill="#a3202a" stroke="#a3202a" stroke-width="0.06" textLength="16.4" lengthAdjust="spacingAndGlyphs">CD138−</text>
<rect x="415.20" y="588.60" width="18.50" height="24.70" fill="#a7d592"/>
<text x="416.40" y="600.75" font-size="5.0" text-anchor="start" fill="#2b6a2b" stroke="#2b6a2b" stroke-width="0.06" textLength="14.2" lengthAdjust="spacingAndGlyphs">CD3+/</text>
<text x="416.40" y="605.65" font-size="4.8" text-anchor="start" fill="#2b6a2b" stroke="#2b6a2b" stroke-width="0.06" textLength="16.4" lengthAdjust="spacingAndGlyphs">CD138+</text>
<text x="442.85" y="602.75" font-size="4.7" text-anchor="middle" fill="#555" stroke="#555" stroke-width="0.04">0.333</text>
<text x="461.30" y="602.75" font-size="4.7" text-anchor="middle" fill="#555" stroke="#555" stroke-width="0.04">NA</text>
<text x="480.30" y="602.75" font-size="4.7" text-anchor="middle" fill="#555" stroke="#555" stroke-width="0.04">NA</text>
<rect x="415.20" y="613.30" width="18.50" height="24.90" fill="#ea8a7e"/>
<text x="416.40" y="625.55" font-size="5.0" text-anchor="start" fill="#a3202a" stroke="#a3202a" stroke-width="0.06" textLength="14.2" lengthAdjust="spacingAndGlyphs">CD3−/</text>
<text x="416.40" y="630.45" font-size="4.8" text-anchor="start" fill="#a3202a" stroke="#a3202a" stroke-width="0.06" textLength="16.4" lengthAdjust="spacingAndGlyphs">CD138−</text>
<text x="442.85" y="627.55" font-size="4.7" text-anchor="middle" fill="#555" stroke="#555" stroke-width="0.04">0.065</text>
<text x="461.30" y="627.55" font-size="4.7" text-anchor="middle" fill="#555" stroke="#555" stroke-width="0.04">0.333</text>
<text x="480.30" y="627.55" font-size="4.7" text-anchor="middle" fill="#555" stroke="#555" stroke-width="0.04">NA</text>
<rect x="415.20" y="638.20" width="18.50" height="25.60" fill="#f8c98c"/>
<text x="416.40" y="650.80" font-size="5.0" text-anchor="start" fill="#7a4a10" stroke="#7a4a10" stroke-width="0.06" textLength="14.2" lengthAdjust="spacingAndGlyphs">CD3−/</text>
<text x="416.40" y="655.70" font-size="4.8" text-anchor="start" fill="#7a4a10" stroke="#7a4a10" stroke-width="0.06" textLength="16.4" lengthAdjust="spacingAndGlyphs">CD138+</text>
<text x="442.85" y="652.80" font-size="4.7" text-anchor="middle" fill="#555" stroke="#555" stroke-width="0.04">0.065</text>
<text x="461.30" y="652.80" font-size="4.7" text-anchor="middle" fill="#555" stroke="#555" stroke-width="0.04">0.333</text>
<text x="480.30" y="652.80" font-size="4.7" text-anchor="middle" fill="#555" stroke="#555" stroke-width="0.04">0.453</text>
<text x="84.30" y="16.30" font-size="10.7" text-anchor="start" fill="#000" font-weight="bold">A</text>
<text x="7.30" y="171.90" font-size="10.7" text-anchor="start" fill="#000" font-weight="bold">B</text>
<text x="265.00" y="172.50" font-size="10.7" text-anchor="start" fill="#000" font-weight="bold">C</text>
<text x="7.30" y="338.00" font-size="10.7" text-anchor="start" fill="#000" font-weight="bold">D</text>
<text x="264.50" y="338.00" font-size="10.7" text-anchor="start" fill="#000" font-weight="bold">E</text>
<text x="12.00" y="503.40" font-size="10.7" text-anchor="start" fill="#000" font-weight="bold">F</text>
<text x="264.50" y="503.70" font-size="10.7" text-anchor="start" fill="#000" font-weight="bold">G</text>
<rect x="0.5" y="0.5" width="519" height="685" fill="none" stroke="#555" stroke-width="1"/>
</svg></body></html>
